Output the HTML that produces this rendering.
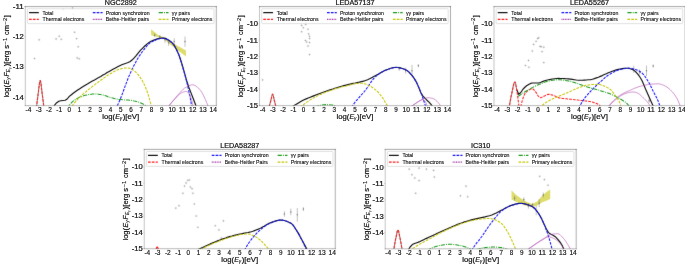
<!DOCTYPE html>
<html><head><meta charset="utf-8"><title>SED</title>
<style>html,body{margin:0;padding:0;background:#fff;overflow:hidden}body{width:685px;height:265px;font-family:"Liberation Sans", sans-serif}</style></head>
<body>
<svg width="685" height="265" viewBox="0 0 685 265" style="display:block;filter:blur(0.3px);font-family:'Liberation Sans', sans-serif" fill="#111"><style>text{stroke:#111}</style>
<defs><filter id="sf" x="0" y="0" width="685" height="265" filterUnits="userSpaceOnUse" color-interpolation-filters="sRGB"><feConvolveMatrix order="3" kernelMatrix="1 4 1 4 60 4 1 4 1" divisor="80" edgeMode="duplicate" preserveAlpha="true"/></filter></defs>
<g filter="url(#sf)">
<rect x="-5" y="-5" width="695" height="275" fill="#fff"/>
<clipPath id="c0"><rect x="25.3" y="6.6" width="191.0" height="99.0"/></clipPath>
<g clip-path="url(#c0)">
<polygon points="151.1,29.2 157.8,34.7 162.9,37.1 172.1,42.8 186.0,50.4 186.0,56.4 172.1,45.9 162.9,38.6 156.7,36.8 151.1,35.3" fill="#d2d23c" fill-opacity="0.75"/>
<path d="M33.3,58.5h2.5M34.5,57.3v2.5" stroke="#8c8c8c" stroke-width="0.55" stroke-opacity="0.52" fill="none"/>
<circle cx="34.5" cy="58.5" r="0.55" fill="#8c8c8c" fill-opacity="0.52"/>
<path d="M37.9,39.8h2.5M39.2,38.6v2.5" stroke="#8c8c8c" stroke-width="0.55" stroke-opacity="0.52" fill="none"/>
<circle cx="39.2" cy="39.8" r="0.55" fill="#8c8c8c" fill-opacity="0.52"/>
<path d="M54.9,38.9h2.5M56.1,37.7v2.5" stroke="#8c8c8c" stroke-width="0.55" stroke-opacity="0.52" fill="none"/>
<circle cx="56.1" cy="38.9" r="0.55" fill="#8c8c8c" fill-opacity="0.52"/>
<path d="M57.9,36.2h2.5M59.2,34.9v2.5" stroke="#8c8c8c" stroke-width="0.55" stroke-opacity="0.52" fill="none"/>
<circle cx="59.2" cy="36.2" r="0.55" fill="#8c8c8c" fill-opacity="0.52"/>
<path d="M60.0,39.2h2.5M61.2,38.0v2.5" stroke="#8c8c8c" stroke-width="0.55" stroke-opacity="0.52" fill="none"/>
<circle cx="61.2" cy="39.2" r="0.55" fill="#8c8c8c" fill-opacity="0.52"/>
<path d="M73.3,32.3h2.5M74.6,31.0v2.5" stroke="#8c8c8c" stroke-width="0.55" stroke-opacity="0.52" fill="none"/>
<circle cx="74.6" cy="32.3" r="0.55" fill="#8c8c8c" fill-opacity="0.52"/>
<path d="M75.4,38.6h2.5M76.6,37.4v2.5" stroke="#8c8c8c" stroke-width="0.55" stroke-opacity="0.52" fill="none"/>
<circle cx="76.6" cy="38.6" r="0.55" fill="#8c8c8c" fill-opacity="0.52"/>
<path d="M76.9,46.8h2.5M78.2,45.5v2.5" stroke="#8c8c8c" stroke-width="0.55" stroke-opacity="0.52" fill="none"/>
<circle cx="78.2" cy="46.8" r="0.55" fill="#8c8c8c" fill-opacity="0.52"/>
<path d="M75.9,57.9h2.5M77.2,56.7v2.5" stroke="#8c8c8c" stroke-width="0.55" stroke-opacity="0.52" fill="none"/>
<circle cx="77.2" cy="57.9" r="0.55" fill="#8c8c8c" fill-opacity="0.52"/>
<path d="M78.0,58.8h2.5M79.2,57.6v2.5" stroke="#8c8c8c" stroke-width="0.55" stroke-opacity="0.52" fill="none"/>
<circle cx="79.2" cy="58.8" r="0.55" fill="#8c8c8c" fill-opacity="0.52"/>
<path d="M71.3,8.1h2.5M72.5,6.9v2.5" stroke="#8c8c8c" stroke-width="0.55" stroke-opacity="0.52" fill="none"/>
<circle cx="72.5" cy="8.1" r="0.55" fill="#8c8c8c" fill-opacity="0.52"/>
<path d="M62.0,9.6h2.5M63.3,8.4v2.5" stroke="#8c8c8c" stroke-width="0.55" stroke-opacity="0.52" fill="none"/>
<circle cx="63.3" cy="9.6" r="0.55" fill="#8c8c8c" fill-opacity="0.52"/>
<path d="M72.3,14.1h2.5M73.6,12.9v2.5" stroke="#8c8c8c" stroke-width="0.55" stroke-opacity="0.52" fill="none"/>
<circle cx="73.6" cy="14.1" r="0.55" fill="#8c8c8c" fill-opacity="0.52"/>
<line x1="154.7" x2="154.7" y1="33.5" y2="37.1" stroke="#707070" stroke-width="0.7" stroke-opacity="0.62"/>
<circle cx="154.7" cy="35.3" r="0.75" fill="#707070" fill-opacity="0.8"/>
<line x1="159.8" x2="159.8" y1="35.0" y2="38.6" stroke="#707070" stroke-width="0.7" stroke-opacity="0.62"/>
<circle cx="159.8" cy="36.8" r="0.75" fill="#707070" fill-opacity="0.8"/>
<line x1="165.0" x2="165.0" y1="36.8" y2="42.8" stroke="#707070" stroke-width="0.7" stroke-opacity="0.62"/>
<circle cx="165.0" cy="39.8" r="0.75" fill="#707070" fill-opacity="0.8"/>
<line x1="168.6" x2="168.6" y1="39.8" y2="45.9" stroke="#707070" stroke-width="0.7" stroke-opacity="0.62"/>
<circle cx="168.6" cy="42.8" r="0.75" fill="#707070" fill-opacity="0.8"/>
<line x1="174.2" x2="174.2" y1="38.3" y2="45.0" stroke="#707070" stroke-width="0.7" stroke-opacity="0.62"/>
<circle cx="174.2" cy="41.6" r="0.75" fill="#707070" fill-opacity="0.8"/>
<line x1="185.0" x2="185.0" y1="36.5" y2="46.8" stroke="#707070" stroke-width="0.7" stroke-opacity="0.62"/>
<circle cx="185.0" cy="41.6" r="0.75" fill="#707070" fill-opacity="0.8"/>
<path d="M35.6,115.3 35.7,114.1 35.8,112.9 36.0,111.7 36.1,110.5 36.2,109.4 36.4,108.2 36.5,107.1 36.6,105.9 36.8,104.8 36.9,103.7 37.0,102.6 37.2,101.5 37.3,100.5 37.4,99.4 37.6,98.4 37.7,97.3 37.8,96.3 38.0,95.3 38.1,94.3 38.2,93.3 38.4,92.3 38.5,91.1 38.6,89.9 38.8,88.8 38.9,87.6 39.1,86.4 39.2,85.3 39.3,84.3 39.5,83.3 39.6,82.5 39.7,81.8 39.9,81.2 40.0,80.8 40.1,80.6 40.3,80.6 40.4,80.8 40.5,81.2 40.7,81.8 40.8,82.5 40.9,83.3 41.1,84.3 41.2,85.3 41.3,86.4 41.5,87.6 41.6,88.8 41.7,89.9 41.9,91.1 42.0,92.3 42.1,93.3 42.3,94.3 42.4,95.3 42.5,96.3 42.7,97.3 42.8,98.4 42.9,99.4 43.1,100.5 43.2,101.5 43.3,102.6 43.5,103.7 43.6,104.8 43.7,105.9 43.9,107.1 44.0,108.2 44.1,109.4 44.3,110.5 44.4,111.7 44.5,112.9 44.7,114.1 44.8,115.3" fill="none" stroke="#111" stroke-width="0.55" stroke-linejoin="round"/>
<path d="M52.5,109.3 54.6,105.2 56.7,102.7 58.8,101.2 60.9,100.7 63.0,100.5 65.1,100.3 67.2,99.0 69.3,96.4 71.4,94.7 73.5,93.0 75.6,91.5 77.7,90.1 79.8,88.7 81.9,87.3 84.0,86.0 86.1,84.7 88.2,83.5 90.3,82.2 92.4,81.0 94.5,79.9 96.6,78.7 98.7,77.6 100.8,76.4 102.9,75.1 105.0,73.9 107.1,72.6 109.2,71.4 111.3,70.2 113.4,69.0 115.5,67.9 117.6,66.8 119.7,65.7 121.8,64.8 123.9,64.0 126.0,63.3 128.1,62.5 130.2,61.5 132.3,59.8 134.4,57.6 136.4,55.3 138.5,52.7 140.6,50.2 142.7,48.1 144.8,46.0 146.9,44.1 149.0,42.5 151.1,41.2 153.2,40.4 155.3,39.6 157.4,38.9 159.5,38.4 161.6,38.1 163.7,38.1 165.8,38.6 167.9,39.7 170.0,41.1 172.1,42.8 174.2,45.4 176.3,49.2 178.4,53.7 180.5,59.4 182.6,66.1 184.7,73.7 186.8,81.3 188.9,87.5 191.0,92.9 193.1,98.3 195.2,103.8 197.3,109.3" fill="none" stroke="#111" stroke-width="1.15" stroke-linejoin="round"/>
<path d="M35.6,115.3 35.7,114.1 35.8,112.9 36.0,111.7 36.1,110.5 36.2,109.4 36.4,108.2 36.5,107.1 36.6,105.9 36.8,104.8 36.9,103.7 37.0,102.6 37.2,101.5 37.3,100.5 37.4,99.4 37.6,98.4 37.7,97.3 37.8,96.3 38.0,95.3 38.1,94.3 38.2,93.3 38.4,92.3 38.5,91.1 38.6,89.9 38.8,88.8 38.9,87.6 39.1,86.4 39.2,85.3 39.3,84.3 39.5,83.3 39.6,82.5 39.7,81.8 39.9,81.2 40.0,80.8 40.1,80.6 40.3,80.6 40.4,80.8 40.5,81.2 40.7,81.8 40.8,82.5 40.9,83.3 41.1,84.3 41.2,85.3 41.3,86.4 41.5,87.6 41.6,88.8 41.7,89.9 41.9,91.1 42.0,92.3 42.1,93.3 42.3,94.3 42.4,95.3 42.5,96.3 42.7,97.3 42.8,98.4 42.9,99.4 43.1,100.5 43.2,101.5 43.3,102.6 43.5,103.7 43.6,104.8 43.7,105.9 43.9,107.1 44.0,108.2 44.1,109.4 44.3,110.5 44.4,111.7 44.5,112.9 44.7,114.1 44.8,115.3" fill="none" stroke="#ff1a1a" stroke-width="1.05" stroke-dasharray="2.7,1.15" stroke-linejoin="round"/>
<path d="M115.7,109.3 116.8,106.9 117.9,104.5 119.0,102.0 120.1,99.5 121.2,96.8 122.3,94.0 123.4,91.0 124.5,87.9 125.6,84.8 126.8,81.8 127.9,78.8 129.0,76.1 130.1,73.6 131.2,71.2 132.3,68.9 133.4,66.6 134.5,64.5 135.6,62.4 136.7,60.4 137.8,58.4 138.9,56.6 140.1,54.9 141.2,53.3 142.3,51.8 143.4,50.3 144.5,48.9 145.6,47.5 146.7,46.1 147.8,44.9 148.9,43.8 150.0,42.9 151.1,42.2 152.3,41.6 153.4,41.1 154.5,40.6 155.6,40.1 156.7,39.6 157.8,39.2 158.9,38.9 160.0,38.6 161.1,38.4 162.2,38.3 163.3,38.3 164.4,38.5 165.6,38.8 166.7,39.2 167.8,39.8 168.9,40.5 170.0,41.2 171.1,42.0 172.2,42.9 173.3,44.0 174.4,45.6 175.5,47.6 176.6,49.8 177.8,52.2 178.9,54.8 180.0,58.1 181.1,61.8 182.2,65.6 183.3,69.4 184.4,73.2 185.5,77.1 186.6,81.3 187.7,85.9 188.8,91.1 190.0,96.7 191.1,102.8 192.2,109.3" fill="none" stroke="#1010ff" stroke-width="1.05" stroke-dasharray="2.7,1.15" stroke-linejoin="round"/>
<path d="M166.5,109.3 167.1,108.4 167.7,107.6 168.3,106.7 169.0,105.9 169.6,105.1 170.2,104.2 170.8,103.4 171.4,102.6 172.1,101.9 172.7,101.1 173.3,100.3 173.9,99.6 174.5,98.8 175.1,98.1 175.8,97.4 176.4,96.7 177.0,96.0 177.6,95.3 178.2,94.6 178.8,93.9 179.5,93.2 180.1,92.5 180.7,91.8 181.3,91.1 181.9,90.5 182.6,89.8 183.2,89.2 183.8,88.7 184.4,88.2 185.0,87.8 185.6,87.5 186.3,87.1 186.9,86.8 187.5,86.5 188.1,86.1 188.7,85.8 189.3,85.6 190.0,85.3 190.6,85.1 191.2,85.0 191.8,84.9 192.4,84.8 193.1,84.8 193.7,85.0 194.3,85.2 194.9,85.4 195.5,85.8 196.1,86.2 196.8,86.7 197.4,87.2 198.0,87.8 198.6,88.4 199.2,89.0 199.8,89.6 200.5,90.3 201.1,91.2 201.7,92.2 202.3,93.2 202.9,94.4 203.6,95.7 204.2,97.0 204.8,98.3 205.4,99.6 206.0,101.0 206.6,102.5 207.3,104.1 207.9,105.8 208.5,107.5 209.1,109.3" fill="none" stroke="#b04cb0" stroke-width="0.6" stroke-linejoin="round"/>
<path d="M166.5,109.3 166.9,108.7 167.3,108.2 167.7,107.7 168.1,107.1 168.5,106.6 168.9,106.1 169.3,105.6 169.7,105.1 170.0,104.6 170.4,104.1 170.8,103.6 171.2,103.1 171.6,102.7 172.0,102.2 172.4,101.8 172.8,101.3 173.2,100.9 173.6,100.4 174.0,100.0 174.4,99.6 174.8,99.2 175.2,98.8 175.6,98.4 176.0,97.9 176.4,97.5 176.8,97.1 177.1,96.7 177.5,96.2 177.9,95.8 178.3,95.4 178.7,95.0 179.1,94.6 179.5,94.3 179.9,93.9 180.3,93.6 180.7,93.3 181.1,93.0 181.5,92.8 181.9,92.6 182.3,92.4 182.7,92.3 183.1,92.2 183.5,92.0 183.8,91.9 184.2,91.8 184.6,91.7 185.0,91.6 185.4,91.5 185.8,91.5 186.2,91.5 186.6,91.5 187.0,91.6 187.4,91.8 187.8,92.2 188.2,92.7 188.6,93.3 189.0,93.9 189.4,94.6 189.8,95.4 190.2,96.2 190.6,97.0 190.9,98.0 191.3,99.1 191.7,100.4 192.1,102.0 192.5,103.6 192.9,105.4 193.3,107.3 193.7,109.3" fill="none" stroke="#b04cb0" stroke-width="0.6" stroke-linejoin="round"/>
<path d="M66.4,109.3 67.6,107.5 68.8,105.9 69.9,104.4 71.1,103.1 72.3,101.9 73.5,100.9 74.7,100.0 75.9,99.2 77.1,98.5 78.3,97.9 79.5,97.3 80.7,96.8 81.9,96.4 83.0,96.0 84.2,95.6 85.4,95.3 86.6,95.0 87.8,94.8 89.0,94.6 90.2,94.4 91.4,94.2 92.6,94.0 93.8,93.9 94.9,93.9 96.1,93.9 97.3,94.0 98.5,94.2 99.7,94.4 100.9,94.6 102.1,94.8 103.3,95.1 104.5,95.4 105.7,95.8 106.9,96.2 108.0,96.7 109.2,97.1 110.4,97.5 111.6,97.8 112.8,98.1 114.0,98.4 115.2,98.7 116.4,98.9 117.6,99.2 118.8,99.4 120.0,99.5 121.1,99.6 122.3,99.7 123.5,99.8 124.7,99.9 125.9,99.9 127.1,100.0 128.3,100.1 129.5,100.2 130.7,100.3 131.9,100.5 133.0,100.7 134.2,101.0 135.4,101.2 136.6,101.6 137.8,101.9 139.0,102.3 140.2,102.7 141.4,103.2 142.6,103.7 143.8,104.4 145.0,105.1 146.1,106.3 147.3,107.7 148.5,109.3" fill="none" stroke="#1a9a1a" stroke-width="1.05" stroke-dasharray="4.2,1.1,0.9,1.1" stroke-linejoin="round"/>
<path d="M69.5,109.3 70.7,107.7 71.9,106.2 73.0,104.7 74.2,103.2 75.4,101.8 76.6,100.4 77.8,99.1 79.0,97.9 80.2,96.7 81.4,95.6 82.6,94.5 83.8,93.4 85.0,92.4 86.2,91.5 87.4,90.5 88.6,89.5 89.8,88.6 91.0,87.6 92.2,86.7 93.4,85.7 94.6,84.8 95.8,83.9 97.0,83.0 98.2,82.1 99.4,81.2 100.6,80.3 101.8,79.5 103.0,78.6 104.2,77.8 105.4,76.9 106.6,76.1 107.8,75.3 109.0,74.5 110.2,73.8 111.4,73.2 112.6,72.5 113.8,71.8 115.0,71.1 116.2,70.5 117.4,70.0 118.6,69.5 119.8,69.1 121.0,68.8 122.2,68.5 123.4,68.3 124.6,68.1 125.8,68.0 127.0,67.9 128.2,68.0 129.4,68.2 130.6,68.7 131.8,69.3 133.0,69.9 134.1,70.7 135.3,71.6 136.5,72.8 137.7,74.2 138.9,75.7 140.1,77.4 141.3,79.1 142.5,81.0 143.7,83.3 144.9,85.9 146.1,88.8 147.3,92.0 148.5,95.7 149.7,99.8 150.9,104.4 152.1,109.3" fill="none" stroke="#c4c400" stroke-width="1.05" stroke-dasharray="2.7,1.15" stroke-linejoin="round"/>
</g>
<line x1="25.3" y1="6.6" x2="25.3" y2="105.6" stroke="#000" stroke-opacity="0.28" stroke-width="0.85" stroke-linecap="square"/>
<line x1="25.3" y1="105.6" x2="216.3" y2="105.6" stroke="#000" stroke-opacity="0.32" stroke-width="0.85" stroke-linecap="square"/>
<line x1="25.3" y1="6.6" x2="216.3" y2="6.6" stroke="#000" stroke-opacity="0.42" stroke-width="0.85" stroke-linecap="square"/>
<line x1="216.3" y1="6.6" x2="216.3" y2="105.6" stroke="#000" stroke-opacity="0.38" stroke-width="0.85" stroke-linecap="square"/>
<line x1="28.38" x2="28.38" y1="105.6" y2="106.8" stroke="#000" stroke-opacity="0.25" stroke-width="0.5"/>
<line x1="38.65" x2="38.65" y1="105.6" y2="106.8" stroke="#000" stroke-opacity="0.25" stroke-width="0.5"/>
<line x1="48.92" x2="48.92" y1="105.6" y2="106.8" stroke="#000" stroke-opacity="0.25" stroke-width="0.5"/>
<line x1="59.19" x2="59.19" y1="105.6" y2="106.8" stroke="#000" stroke-opacity="0.25" stroke-width="0.5"/>
<line x1="69.46" x2="69.46" y1="105.6" y2="106.8" stroke="#000" stroke-opacity="0.25" stroke-width="0.5"/>
<line x1="79.72" x2="79.72" y1="105.6" y2="106.8" stroke="#000" stroke-opacity="0.25" stroke-width="0.5"/>
<line x1="89.99" x2="89.99" y1="105.6" y2="106.8" stroke="#000" stroke-opacity="0.25" stroke-width="0.5"/>
<line x1="100.26" x2="100.26" y1="105.6" y2="106.8" stroke="#000" stroke-opacity="0.25" stroke-width="0.5"/>
<line x1="110.53" x2="110.53" y1="105.6" y2="106.8" stroke="#000" stroke-opacity="0.25" stroke-width="0.5"/>
<line x1="120.80" x2="120.80" y1="105.6" y2="106.8" stroke="#000" stroke-opacity="0.25" stroke-width="0.5"/>
<line x1="131.07" x2="131.07" y1="105.6" y2="106.8" stroke="#000" stroke-opacity="0.25" stroke-width="0.5"/>
<line x1="141.34" x2="141.34" y1="105.6" y2="106.8" stroke="#000" stroke-opacity="0.25" stroke-width="0.5"/>
<line x1="151.61" x2="151.61" y1="105.6" y2="106.8" stroke="#000" stroke-opacity="0.25" stroke-width="0.5"/>
<line x1="161.88" x2="161.88" y1="105.6" y2="106.8" stroke="#000" stroke-opacity="0.25" stroke-width="0.5"/>
<line x1="172.14" x2="172.14" y1="105.6" y2="106.8" stroke="#000" stroke-opacity="0.25" stroke-width="0.5"/>
<line x1="182.41" x2="182.41" y1="105.6" y2="106.8" stroke="#000" stroke-opacity="0.25" stroke-width="0.5"/>
<line x1="192.68" x2="192.68" y1="105.6" y2="106.8" stroke="#000" stroke-opacity="0.25" stroke-width="0.5"/>
<line x1="202.95" x2="202.95" y1="105.6" y2="106.8" stroke="#000" stroke-opacity="0.25" stroke-width="0.5"/>
<line x1="213.22" x2="213.22" y1="105.6" y2="106.8" stroke="#000" stroke-opacity="0.25" stroke-width="0.5"/>
<line x1="24.1" x2="25.3" y1="6.60" y2="6.60" stroke="#000" stroke-opacity="0.25" stroke-width="0.5"/>
<line x1="24.1" x2="25.3" y1="36.80" y2="36.80" stroke="#000" stroke-opacity="0.25" stroke-width="0.5"/>
<line x1="24.1" x2="25.3" y1="67.00" y2="67.00" stroke="#000" stroke-opacity="0.25" stroke-width="0.5"/>
<line x1="24.1" x2="25.3" y1="97.20" y2="97.20" stroke="#000" stroke-opacity="0.25" stroke-width="0.5"/>
<rect x="27.45" y="8.70" width="186.55" height="14.90" rx="0.8" fill="#fff" fill-opacity="0.8" stroke="#c8c8c8" stroke-width="0.55"/>
<line x1="29.05" x2="38.85" y1="12.60" y2="12.60" stroke="#111" stroke-width="1.25"/>
<line x1="29.05" x2="38.85" y1="19.30" y2="19.30" stroke="#ff1a1a" stroke-width="1.15" stroke-dasharray="2.7,1.15"/>
<line x1="92.80" x2="102.60" y1="12.60" y2="12.60" stroke="#1010ff" stroke-width="1.15" stroke-dasharray="2.7,1.15"/>
<line x1="92.80" x2="102.60" y1="19.30" y2="19.30" stroke="#a030a0" stroke-width="1.15" stroke-dasharray="1.0,0.65"/>
<line x1="158.70" x2="168.50" y1="12.60" y2="12.60" stroke="#1a9a1a" stroke-width="1.15" stroke-dasharray="4.2,1.1,0.9,1.1"/>
<line x1="158.70" x2="168.50" y1="19.30" y2="19.30" stroke="#c4c400" stroke-width="1.15" stroke-dasharray="2.7,1.15"/>
<clipPath id="c1"><rect x="259.5" y="6.6" width="191.0" height="99.0"/></clipPath>
<g clip-path="url(#c1)">
<path d="M300.4,25.4h2.5M301.6,24.2v2.5" stroke="#8c8c8c" stroke-width="0.55" stroke-opacity="0.52" fill="none"/>
<circle cx="301.6" cy="25.4" r="0.55" fill="#8c8c8c" fill-opacity="0.52"/>
<path d="M302.1,27.7h2.5M303.3,26.5v2.5" stroke="#8c8c8c" stroke-width="0.55" stroke-opacity="0.52" fill="none"/>
<circle cx="303.3" cy="27.7" r="0.55" fill="#8c8c8c" fill-opacity="0.52"/>
<path d="M300.4,31.7h2.5M301.6,30.4v2.5" stroke="#8c8c8c" stroke-width="0.55" stroke-opacity="0.52" fill="none"/>
<circle cx="301.6" cy="31.7" r="0.55" fill="#8c8c8c" fill-opacity="0.52"/>
<path d="M304.5,24.5h2.5M305.7,23.2v2.5" stroke="#8c8c8c" stroke-width="0.55" stroke-opacity="0.52" fill="none"/>
<circle cx="305.7" cy="24.5" r="0.55" fill="#8c8c8c" fill-opacity="0.52"/>
<path d="M306.7,29.2h2.5M308.0,27.9v2.5" stroke="#8c8c8c" stroke-width="0.55" stroke-opacity="0.52" fill="none"/>
<circle cx="308.0" cy="29.2" r="0.55" fill="#8c8c8c" fill-opacity="0.52"/>
<path d="M307.3,33.9h2.5M308.6,32.7v2.5" stroke="#8c8c8c" stroke-width="0.55" stroke-opacity="0.52" fill="none"/>
<circle cx="308.6" cy="33.9" r="0.55" fill="#8c8c8c" fill-opacity="0.52"/>
<path d="M308.3,36.2h2.5M309.5,35.0v2.5" stroke="#8c8c8c" stroke-width="0.55" stroke-opacity="0.52" fill="none"/>
<circle cx="309.5" cy="36.2" r="0.55" fill="#8c8c8c" fill-opacity="0.52"/>
<path d="M308.3,38.5h2.5M309.5,37.3v2.5" stroke="#8c8c8c" stroke-width="0.55" stroke-opacity="0.52" fill="none"/>
<circle cx="309.5" cy="38.5" r="0.55" fill="#8c8c8c" fill-opacity="0.52"/>
<path d="M304.2,40.5h2.5M305.4,39.2v2.5" stroke="#8c8c8c" stroke-width="0.55" stroke-opacity="0.52" fill="none"/>
<circle cx="305.4" cy="40.5" r="0.55" fill="#8c8c8c" fill-opacity="0.52"/>
<path d="M305.5,42.0h2.5M306.7,40.7v2.5" stroke="#8c8c8c" stroke-width="0.55" stroke-opacity="0.52" fill="none"/>
<circle cx="306.7" cy="42.0" r="0.55" fill="#8c8c8c" fill-opacity="0.52"/>
<path d="M308.3,42.5h2.5M309.5,41.2v2.5" stroke="#8c8c8c" stroke-width="0.55" stroke-opacity="0.52" fill="none"/>
<circle cx="309.5" cy="42.5" r="0.55" fill="#8c8c8c" fill-opacity="0.52"/>
<path d="M306.7,46.0h2.5M308.0,44.8v2.5" stroke="#8c8c8c" stroke-width="0.55" stroke-opacity="0.52" fill="none"/>
<circle cx="308.0" cy="46.0" r="0.55" fill="#8c8c8c" fill-opacity="0.52"/>
<path d="M308.3,54.6h2.5M309.5,53.3v2.5" stroke="#8c8c8c" stroke-width="0.55" stroke-opacity="0.52" fill="none"/>
<circle cx="309.5" cy="54.6" r="0.55" fill="#8c8c8c" fill-opacity="0.52"/>
<path d="M261.3,79.9h2.5M262.6,78.7v2.5" stroke="#8c8c8c" stroke-width="0.55" stroke-opacity="0.52" fill="none"/>
<circle cx="262.6" cy="79.9" r="0.55" fill="#8c8c8c" fill-opacity="0.52"/>
<line x1="399.2" x2="399.2" y1="66.8" y2="70.8" stroke="#707070" stroke-width="0.7" stroke-opacity="0.62"/>
<circle cx="399.2" cy="68.8" r="0.75" fill="#707070" fill-opacity="0.8"/>
<line x1="405.6" x2="405.6" y1="67.8" y2="73.7" stroke="#707070" stroke-width="0.7" stroke-opacity="0.62"/>
<circle cx="405.6" cy="70.8" r="0.75" fill="#707070" fill-opacity="0.8"/>
<line x1="412.0" x2="412.0" y1="64.9" y2="76.6" stroke="#707070" stroke-width="0.7" stroke-opacity="0.62"/>
<circle cx="412.0" cy="70.8" r="0.75" fill="#707070" fill-opacity="0.8"/>
<line x1="418.4" x2="418.4" y1="64.0" y2="67.3" stroke="#707070" stroke-width="0.7" stroke-opacity="0.62"/>
<circle cx="418.4" cy="65.7" r="0.75" fill="#707070" fill-opacity="0.8"/>
<path d="M268.2,110.5 268.4,110.0 268.5,109.5 268.6,109.0 268.7,108.5 268.9,108.0 269.0,107.5 269.1,107.0 269.2,106.5 269.4,106.1 269.5,105.6 269.6,105.1 269.7,104.6 269.9,104.1 270.0,103.6 270.1,103.2 270.3,102.7 270.4,102.2 270.5,101.8 270.6,101.3 270.8,100.8 270.9,100.4 271.0,99.8 271.1,99.3 271.3,98.7 271.4,98.1 271.5,97.5 271.6,96.9 271.8,96.4 271.9,95.8 272.0,95.4 272.1,94.9 272.3,94.6 272.4,94.4 272.5,94.2 272.7,94.1 272.8,94.2 272.9,94.4 273.0,94.7 273.2,95.1 273.3,95.6 273.4,96.1 273.5,96.7 273.7,97.3 273.8,98.0 273.9,98.6 274.0,99.2 274.2,99.8 274.3,100.3 274.4,100.8 274.6,101.3 274.7,101.8 274.8,102.3 274.9,102.8 275.1,103.2 275.2,103.7 275.3,104.2 275.4,104.7 275.6,105.2 275.7,105.6 275.8,106.1 275.9,106.6 276.1,107.1 276.2,107.6 276.3,108.1 276.5,108.6 276.6,109.0 276.7,109.5 276.8,110.0 277.0,110.5" fill="none" stroke="#111" stroke-width="0.55" stroke-linejoin="round"/>
<path d="M291.8,107.2 293.9,105.8 295.9,104.4 298.0,103.2 300.0,102.0 302.1,100.8 304.1,99.8 306.2,98.9 308.2,98.0 310.3,97.2 312.3,96.4 314.4,95.6 316.4,94.8 318.4,94.0 320.5,93.2 322.5,92.5 324.6,91.7 326.6,91.0 328.7,90.3 330.7,89.6 332.8,89.0 334.8,88.3 336.9,87.7 338.9,87.1 341.0,86.5 343.0,85.9 345.1,85.4 347.1,84.9 349.1,84.4 351.2,83.9 353.2,83.4 355.3,83.0 357.3,82.5 359.4,82.1 361.4,81.6 363.5,81.1 365.5,80.5 367.6,79.7 369.6,78.8 371.7,77.7 373.7,76.6 375.7,75.6 377.8,74.4 379.8,73.2 381.9,72.0 383.9,70.9 386.0,70.0 388.0,69.3 390.1,68.5 392.1,67.9 394.2,67.5 396.2,67.3 398.3,67.5 400.3,67.9 402.3,68.5 404.4,69.3 406.4,70.1 408.5,71.6 410.5,73.8 412.6,76.2 414.6,79.1 416.7,82.6 418.7,87.4 420.8,92.5 422.8,95.8 424.9,98.1 426.9,100.2 429.0,102.1 431.0,104.4 433.0,107.2" fill="none" stroke="#111" stroke-width="1.15" stroke-linejoin="round"/>
<path d="M268.2,110.5 268.4,110.0 268.5,109.5 268.6,109.0 268.7,108.5 268.9,108.0 269.0,107.5 269.1,107.0 269.2,106.5 269.4,106.1 269.5,105.6 269.6,105.1 269.7,104.6 269.9,104.1 270.0,103.6 270.1,103.2 270.3,102.7 270.4,102.2 270.5,101.8 270.6,101.3 270.8,100.8 270.9,100.4 271.0,99.8 271.1,99.3 271.3,98.7 271.4,98.1 271.5,97.5 271.6,96.9 271.8,96.4 271.9,95.8 272.0,95.4 272.1,94.9 272.3,94.6 272.4,94.4 272.5,94.2 272.7,94.1 272.8,94.2 272.9,94.4 273.0,94.7 273.2,95.1 273.3,95.6 273.4,96.1 273.5,96.7 273.7,97.3 273.8,98.0 273.9,98.6 274.0,99.2 274.2,99.8 274.3,100.3 274.4,100.8 274.6,101.3 274.7,101.8 274.8,102.3 274.9,102.8 275.1,103.2 275.2,103.7 275.3,104.2 275.4,104.7 275.6,105.2 275.7,105.6 275.8,106.1 275.9,106.6 276.1,107.1 276.2,107.6 276.3,108.1 276.5,108.6 276.6,109.0 276.7,109.5 276.8,110.0 277.0,110.5" fill="none" stroke="#ff1a1a" stroke-width="1.05" stroke-dasharray="2.7,1.15" stroke-linejoin="round"/>
<path d="M351.4,107.2 352.5,105.7 353.6,104.2 354.6,102.8 355.7,101.4 356.8,100.1 357.9,98.9 359.0,97.6 360.0,96.4 361.1,95.2 362.2,94.0 363.3,92.8 364.4,91.5 365.4,90.2 366.5,88.7 367.6,87.2 368.7,85.6 369.7,84.0 370.8,82.4 371.9,80.8 373.0,79.4 374.1,78.1 375.1,77.0 376.2,76.1 377.3,75.2 378.4,74.4 379.5,73.6 380.5,72.9 381.6,72.3 382.7,71.7 383.8,71.1 384.9,70.6 385.9,70.2 387.0,69.8 388.1,69.4 389.2,69.0 390.2,68.6 391.3,68.3 392.4,68.0 393.5,67.7 394.6,67.6 395.6,67.5 396.7,67.5 397.8,67.6 398.9,67.7 400.0,67.9 401.0,68.2 402.1,68.5 403.2,68.9 404.3,69.3 405.4,69.7 406.4,70.1 407.5,70.8 408.6,71.7 409.7,72.8 410.7,74.0 411.8,75.3 412.9,76.7 414.0,78.2 415.1,79.9 416.1,81.8 417.2,83.9 418.3,86.3 419.4,88.8 420.5,91.6 421.5,94.4 422.6,97.4 423.7,100.5 424.8,103.8 425.9,107.2" fill="none" stroke="#1010ff" stroke-width="1.05" stroke-dasharray="2.7,1.15" stroke-linejoin="round"/>
<path d="M410.5,107.2 410.9,106.9 411.3,106.5 411.8,106.2 412.2,105.8 412.7,105.5 413.1,105.2 413.6,104.8 414.0,104.5 414.5,104.2 414.9,103.9 415.4,103.6 415.8,103.3 416.3,103.0 416.7,102.7 417.1,102.4 417.6,102.1 418.0,101.9 418.5,101.6 418.9,101.4 419.4,101.1 419.8,100.8 420.3,100.6 420.7,100.3 421.2,100.0 421.6,99.8 422.1,99.5 422.5,99.3 423.0,99.1 423.4,98.9 423.8,98.7 424.3,98.6 424.7,98.4 425.2,98.3 425.6,98.2 426.1,98.1 426.5,98.0 427.0,97.9 427.4,97.8 427.9,97.8 428.3,97.7 428.8,97.8 429.2,97.8 429.6,97.8 430.1,97.9 430.5,98.0 431.0,98.1 431.4,98.2 431.9,98.3 432.3,98.4 432.8,98.6 433.2,98.7 433.7,98.9 434.1,99.1 434.6,99.3 435.0,99.6 435.5,99.9 435.9,100.3 436.3,100.7 436.8,101.1 437.2,101.6 437.7,102.1 438.1,102.6 438.6,103.1 439.0,103.7 439.5,104.3 439.9,105.0 440.4,105.7 440.8,106.5 441.3,107.2" fill="none" stroke="#b04cb0" stroke-width="0.6" stroke-linejoin="round"/>
<path d="M410.5,107.2 410.7,107.0 410.9,106.8 411.2,106.6 411.4,106.5 411.7,106.3 411.9,106.1 412.2,105.9 412.4,105.7 412.7,105.5 412.9,105.3 413.2,105.1 413.4,105.0 413.6,104.8 413.9,104.6 414.1,104.4 414.4,104.3 414.6,104.1 414.9,103.9 415.1,103.8 415.4,103.6 415.6,103.5 415.9,103.3 416.1,103.1 416.3,103.0 416.6,102.8 416.8,102.7 417.1,102.5 417.3,102.4 417.6,102.2 417.8,102.0 418.1,101.8 418.3,101.7 418.6,101.5 418.8,101.3 419.0,101.1 419.3,101.0 419.5,100.8 419.8,100.7 420.0,100.5 420.3,100.4 420.5,100.2 420.8,100.1 421.0,100.0 421.3,99.9 421.5,99.8 421.7,99.7 422.0,99.6 422.2,99.6 422.5,99.6 422.7,99.5 423.0,99.6 423.2,99.6 423.5,99.7 423.7,99.9 424.0,100.1 424.2,100.3 424.4,100.5 424.7,100.8 424.9,101.0 425.2,101.3 425.4,101.6 425.7,102.0 425.9,102.6 426.2,103.2 426.4,103.9 426.7,104.6 426.9,105.5 427.1,106.3 427.4,107.2" fill="none" stroke="#b04cb0" stroke-width="0.6" stroke-linejoin="round"/>
<path d="M315.0,107.2 315.3,107.1 315.6,106.9 315.9,106.8 316.3,106.6 316.6,106.5 316.9,106.3 317.2,106.2 317.6,106.1 317.9,106.0 318.2,105.8 318.6,105.7 318.9,105.6 319.2,105.5 319.5,105.4 319.9,105.4 320.2,105.3 320.5,105.2 320.8,105.2 321.2,105.1 321.5,105.1 321.8,105.0 322.2,105.0 322.5,104.9 322.8,104.9 323.1,104.8 323.5,104.8 323.8,104.8 324.1,104.7 324.4,104.7 324.8,104.7 325.1,104.7 325.4,104.6 325.8,104.6 326.1,104.6 326.4,104.6 326.7,104.6 327.1,104.6 327.4,104.6 327.7,104.7 328.0,104.7 328.4,104.7 328.7,104.7 329.0,104.7 329.4,104.8 329.7,104.8 330.0,104.8 330.3,104.9 330.7,104.9 331.0,104.9 331.3,105.0 331.6,105.0 332.0,105.1 332.3,105.1 332.6,105.1 333.0,105.2 333.3,105.3 333.6,105.4 333.9,105.5 334.3,105.6 334.6,105.7 334.9,105.9 335.3,106.0 335.6,106.2 335.9,106.3 336.2,106.5 336.6,106.7 336.9,106.9 337.2,107.1 337.5,107.2" fill="none" stroke="#1a9a1a" stroke-width="1.05" stroke-dasharray="4.2,1.1,0.9,1.1" stroke-linejoin="round"/>
<path d="M300.1,107.2 301.3,106.2 302.6,105.2 303.9,104.3 305.2,103.3 306.5,102.4 307.7,101.6 309.0,100.7 310.3,99.9 311.6,99.1 312.9,98.4 314.1,97.6 315.4,96.9 316.7,96.3 318.0,95.6 319.3,95.0 320.5,94.4 321.8,93.9 323.1,93.3 324.4,92.8 325.7,92.2 326.9,91.7 328.2,91.2 329.5,90.8 330.8,90.3 332.1,89.9 333.3,89.4 334.6,89.0 335.9,88.6 337.2,88.2 338.5,87.9 339.7,87.5 341.0,87.2 342.3,86.8 343.6,86.5 344.9,86.2 346.1,85.9 347.4,85.5 348.7,85.2 350.0,84.9 351.3,84.6 352.5,84.3 353.8,84.0 355.1,83.8 356.4,83.6 357.7,83.4 358.9,83.3 360.2,83.2 361.5,83.2 362.8,83.4 364.1,83.7 365.3,84.0 366.6,84.4 367.9,84.9 369.2,85.5 370.5,86.2 371.7,87.0 373.0,87.9 374.3,88.8 375.6,89.8 376.9,90.9 378.1,92.2 379.4,93.7 380.7,95.3 382.0,97.0 383.3,98.9 384.5,101.0 385.8,103.2 387.1,105.2 388.4,107.2" fill="none" stroke="#c4c400" stroke-width="1.05" stroke-dasharray="2.7,1.15" stroke-linejoin="round"/>
</g>
<line x1="259.5" y1="6.6" x2="259.5" y2="105.6" stroke="#000" stroke-opacity="0.28" stroke-width="0.85" stroke-linecap="square"/>
<line x1="259.5" y1="105.6" x2="450.5" y2="105.6" stroke="#000" stroke-opacity="0.32" stroke-width="0.85" stroke-linecap="square"/>
<line x1="259.5" y1="6.6" x2="450.5" y2="6.6" stroke="#000" stroke-opacity="0.42" stroke-width="0.85" stroke-linecap="square"/>
<line x1="450.5" y1="6.6" x2="450.5" y2="105.6" stroke="#000" stroke-opacity="0.38" stroke-width="0.85" stroke-linecap="square"/>
<line x1="262.58" x2="262.58" y1="105.6" y2="106.8" stroke="#000" stroke-opacity="0.25" stroke-width="0.5"/>
<line x1="272.85" x2="272.85" y1="105.6" y2="106.8" stroke="#000" stroke-opacity="0.25" stroke-width="0.5"/>
<line x1="283.12" x2="283.12" y1="105.6" y2="106.8" stroke="#000" stroke-opacity="0.25" stroke-width="0.5"/>
<line x1="293.39" x2="293.39" y1="105.6" y2="106.8" stroke="#000" stroke-opacity="0.25" stroke-width="0.5"/>
<line x1="303.66" x2="303.66" y1="105.6" y2="106.8" stroke="#000" stroke-opacity="0.25" stroke-width="0.5"/>
<line x1="313.92" x2="313.92" y1="105.6" y2="106.8" stroke="#000" stroke-opacity="0.25" stroke-width="0.5"/>
<line x1="324.19" x2="324.19" y1="105.6" y2="106.8" stroke="#000" stroke-opacity="0.25" stroke-width="0.5"/>
<line x1="334.46" x2="334.46" y1="105.6" y2="106.8" stroke="#000" stroke-opacity="0.25" stroke-width="0.5"/>
<line x1="344.73" x2="344.73" y1="105.6" y2="106.8" stroke="#000" stroke-opacity="0.25" stroke-width="0.5"/>
<line x1="355.00" x2="355.00" y1="105.6" y2="106.8" stroke="#000" stroke-opacity="0.25" stroke-width="0.5"/>
<line x1="365.27" x2="365.27" y1="105.6" y2="106.8" stroke="#000" stroke-opacity="0.25" stroke-width="0.5"/>
<line x1="375.54" x2="375.54" y1="105.6" y2="106.8" stroke="#000" stroke-opacity="0.25" stroke-width="0.5"/>
<line x1="385.81" x2="385.81" y1="105.6" y2="106.8" stroke="#000" stroke-opacity="0.25" stroke-width="0.5"/>
<line x1="396.08" x2="396.08" y1="105.6" y2="106.8" stroke="#000" stroke-opacity="0.25" stroke-width="0.5"/>
<line x1="406.34" x2="406.34" y1="105.6" y2="106.8" stroke="#000" stroke-opacity="0.25" stroke-width="0.5"/>
<line x1="416.61" x2="416.61" y1="105.6" y2="106.8" stroke="#000" stroke-opacity="0.25" stroke-width="0.5"/>
<line x1="426.88" x2="426.88" y1="105.6" y2="106.8" stroke="#000" stroke-opacity="0.25" stroke-width="0.5"/>
<line x1="437.15" x2="437.15" y1="105.6" y2="106.8" stroke="#000" stroke-opacity="0.25" stroke-width="0.5"/>
<line x1="447.42" x2="447.42" y1="105.6" y2="106.8" stroke="#000" stroke-opacity="0.25" stroke-width="0.5"/>
<line x1="258.3" x2="259.5" y1="23.80" y2="23.80" stroke="#000" stroke-opacity="0.25" stroke-width="0.5"/>
<line x1="258.3" x2="259.5" y1="40.16" y2="40.16" stroke="#000" stroke-opacity="0.25" stroke-width="0.5"/>
<line x1="258.3" x2="259.5" y1="56.52" y2="56.52" stroke="#000" stroke-opacity="0.25" stroke-width="0.5"/>
<line x1="258.3" x2="259.5" y1="72.88" y2="72.88" stroke="#000" stroke-opacity="0.25" stroke-width="0.5"/>
<line x1="258.3" x2="259.5" y1="89.24" y2="89.24" stroke="#000" stroke-opacity="0.25" stroke-width="0.5"/>
<line x1="258.3" x2="259.5" y1="105.60" y2="105.60" stroke="#000" stroke-opacity="0.25" stroke-width="0.5"/>
<rect x="261.65" y="8.70" width="186.55" height="14.90" rx="0.8" fill="#fff" fill-opacity="0.8" stroke="#c8c8c8" stroke-width="0.55"/>
<line x1="263.25" x2="273.05" y1="12.60" y2="12.60" stroke="#111" stroke-width="1.25"/>
<line x1="263.25" x2="273.05" y1="19.30" y2="19.30" stroke="#ff1a1a" stroke-width="1.15" stroke-dasharray="2.7,1.15"/>
<line x1="327.00" x2="336.80" y1="12.60" y2="12.60" stroke="#1010ff" stroke-width="1.15" stroke-dasharray="2.7,1.15"/>
<line x1="327.00" x2="336.80" y1="19.30" y2="19.30" stroke="#a030a0" stroke-width="1.15" stroke-dasharray="1.0,0.65"/>
<line x1="392.90" x2="402.70" y1="12.60" y2="12.60" stroke="#1a9a1a" stroke-width="1.15" stroke-dasharray="4.2,1.1,0.9,1.1"/>
<line x1="392.90" x2="402.70" y1="19.30" y2="19.30" stroke="#c4c400" stroke-width="1.15" stroke-dasharray="2.7,1.15"/>
<clipPath id="c2"><rect x="494.0" y="6.6" width="191.0" height="99.0"/></clipPath>
<g clip-path="url(#c2)">
<path d="M524.2,65.5h2.5M525.4,64.3v2.5" stroke="#8c8c8c" stroke-width="0.55" stroke-opacity="0.52" fill="none"/>
<circle cx="525.4" cy="65.5" r="0.55" fill="#8c8c8c" fill-opacity="0.52"/>
<path d="M527.3,60.4h2.5M528.5,59.2v2.5" stroke="#8c8c8c" stroke-width="0.55" stroke-opacity="0.52" fill="none"/>
<circle cx="528.5" cy="60.4" r="0.55" fill="#8c8c8c" fill-opacity="0.52"/>
<path d="M531.1,51.0h2.5M532.3,49.7v2.5" stroke="#8c8c8c" stroke-width="0.55" stroke-opacity="0.52" fill="none"/>
<circle cx="532.3" cy="51.0" r="0.55" fill="#8c8c8c" fill-opacity="0.52"/>
<path d="M532.4,44.4h2.5M533.6,43.2v2.5" stroke="#8c8c8c" stroke-width="0.55" stroke-opacity="0.52" fill="none"/>
<circle cx="533.6" cy="44.4" r="0.55" fill="#8c8c8c" fill-opacity="0.52"/>
<path d="M534.9,41.3h2.5M536.1,40.1v2.5" stroke="#8c8c8c" stroke-width="0.55" stroke-opacity="0.52" fill="none"/>
<circle cx="536.1" cy="41.3" r="0.55" fill="#8c8c8c" fill-opacity="0.52"/>
<path d="M536.4,38.5h2.5M537.6,37.3v2.5" stroke="#8c8c8c" stroke-width="0.55" stroke-opacity="0.52" fill="none"/>
<circle cx="537.6" cy="38.5" r="0.55" fill="#8c8c8c" fill-opacity="0.52"/>
<path d="M537.4,37.7h2.5M538.7,36.5v2.5" stroke="#8c8c8c" stroke-width="0.55" stroke-opacity="0.52" fill="none"/>
<circle cx="538.7" cy="37.7" r="0.55" fill="#8c8c8c" fill-opacity="0.52"/>
<path d="M538.8,46.4h2.5M540.0,45.1v2.5" stroke="#8c8c8c" stroke-width="0.55" stroke-opacity="0.52" fill="none"/>
<circle cx="540.0" cy="46.4" r="0.55" fill="#8c8c8c" fill-opacity="0.52"/>
<path d="M540.0,46.7h2.5M541.2,45.5v2.5" stroke="#8c8c8c" stroke-width="0.55" stroke-opacity="0.52" fill="none"/>
<circle cx="541.2" cy="46.7" r="0.55" fill="#8c8c8c" fill-opacity="0.52"/>
<path d="M542.6,47.2h2.5M543.8,45.9v2.5" stroke="#8c8c8c" stroke-width="0.55" stroke-opacity="0.52" fill="none"/>
<circle cx="543.8" cy="47.2" r="0.55" fill="#8c8c8c" fill-opacity="0.52"/>
<path d="M540.8,51.6h2.5M542.1,50.4v2.5" stroke="#8c8c8c" stroke-width="0.55" stroke-opacity="0.52" fill="none"/>
<circle cx="542.1" cy="51.6" r="0.55" fill="#8c8c8c" fill-opacity="0.52"/>
<path d="M542.6,62.6h2.5M543.8,61.3v2.5" stroke="#8c8c8c" stroke-width="0.55" stroke-opacity="0.52" fill="none"/>
<circle cx="543.8" cy="62.6" r="0.55" fill="#8c8c8c" fill-opacity="0.52"/>
<path d="M527.7,67.2h2.5M528.9,65.9v2.5" stroke="#8c8c8c" stroke-width="0.55" stroke-opacity="0.52" fill="none"/>
<circle cx="528.9" cy="67.2" r="0.55" fill="#8c8c8c" fill-opacity="0.52"/>
<line x1="633.7" x2="633.7" y1="65.7" y2="72.9" stroke="#707070" stroke-width="0.7" stroke-opacity="0.62"/>
<circle cx="633.7" cy="69.3" r="0.75" fill="#707070" fill-opacity="0.8"/>
<line x1="639.6" x2="639.6" y1="69.6" y2="74.5" stroke="#707070" stroke-width="0.7" stroke-opacity="0.62"/>
<circle cx="639.6" cy="72.1" r="0.75" fill="#707070" fill-opacity="0.8"/>
<line x1="646.5" x2="646.5" y1="65.5" y2="76.0" stroke="#707070" stroke-width="0.7" stroke-opacity="0.62"/>
<circle cx="646.5" cy="70.8" r="0.75" fill="#707070" fill-opacity="0.8"/>
<line x1="653.2" x2="653.2" y1="64.4" y2="67.6" stroke="#707070" stroke-width="0.7" stroke-opacity="0.62"/>
<circle cx="653.2" cy="66.0" r="0.75" fill="#707070" fill-opacity="0.8"/>
<line x1="649.1" x2="649.1" y1="98.6" y2="102.8" stroke="#707070" stroke-width="0.7" stroke-opacity="0.62"/>
<circle cx="649.1" cy="100.7" r="0.75" fill="#707070" fill-opacity="0.8"/>
<path d="M508.9,108.9 509.0,108.2 509.1,107.5 509.2,106.8 509.3,106.2 509.4,105.5 509.6,104.9 509.7,104.2 509.8,103.6 509.9,102.9 510.0,102.3 510.1,101.7 510.2,101.1 510.3,100.5 510.5,99.9 510.6,99.3 510.7,98.7 510.8,98.1 510.9,97.6 511.0,97.0 511.1,96.4 511.2,95.9 511.3,95.4 511.5,94.8 511.6,94.3 511.7,93.8 511.8,93.3 511.9,92.8 512.0,92.3 512.1,91.8 512.2,91.3 512.3,90.8 512.5,90.2 512.6,89.7 512.7,89.1 512.8,88.6 512.9,88.0 513.0,87.5 513.1,86.9 513.2,86.4 513.4,85.9 513.5,85.4 513.6,84.9 513.7,84.4 513.8,84.0 513.9,83.6 514.0,83.3 514.1,82.9 514.2,82.6 514.4,82.4 514.5,82.2 514.6,82.0 514.7,81.9 514.8,81.9 514.9,81.9 515.0,82.0 515.1,82.1 515.3,82.4 515.4,82.7 515.5,83.0 515.6,83.4 515.7,83.9 515.8,84.4 515.9,85.0 516.0,85.6 516.1,86.3 516.3,87.0 516.4,87.7 516.5,88.4 516.6,89.2" fill="none" stroke="#111" stroke-width="0.55" stroke-linejoin="round"/>
<path d="M516.6,89.2 518.6,94.3 520.6,92.7 522.6,89.7 524.6,87.5 526.6,85.7 528.6,84.4 530.6,83.4 532.5,83.0 534.5,83.0 536.5,83.0 538.5,83.0 540.5,82.5 542.5,81.6 544.5,80.8 546.5,80.2 548.5,79.7 550.5,79.4 552.5,79.0 554.5,78.7 556.5,78.5 558.5,78.4 560.5,78.5 562.5,78.5 564.5,78.6 566.4,78.8 568.4,78.9 570.4,79.1 572.4,79.4 574.4,79.7 576.4,80.0 578.4,80.2 580.4,80.2 582.4,80.2 584.4,80.1 586.4,80.0 588.4,79.8 590.4,79.7 592.4,79.2 594.4,78.6 596.4,77.9 598.4,77.2 600.3,76.4 602.3,75.6 604.3,74.6 606.3,73.7 608.3,72.7 610.3,72.0 612.3,71.2 614.3,70.5 616.3,69.9 618.3,69.4 620.3,69.0 622.3,68.6 624.3,68.4 626.3,68.2 628.3,68.2 630.3,68.7 632.3,69.5 634.3,70.6 636.2,72.3 638.2,74.7 640.2,77.5 642.2,81.0 644.2,85.7 646.2,90.6 648.2,95.1 650.2,99.5 652.2,103.9 654.2,108.1" fill="none" stroke="#111" stroke-width="1.15" stroke-linejoin="round"/>
<path d="M508.9,108.9 509.0,107.9 509.2,107.0 509.3,106.1 509.5,105.2 509.7,104.3 509.8,103.4 510.0,102.6 510.1,101.7 510.3,100.9 510.4,100.0 510.6,99.2 510.7,98.4 510.9,97.6 511.0,96.9 511.2,96.1 511.3,95.4 511.5,94.7 511.6,93.9 511.8,93.3 512.0,92.6 512.1,91.9 512.3,91.2 512.4,90.4 512.6,89.7 512.7,88.9 512.9,88.2 513.0,87.4 513.2,86.7 513.3,86.0 513.5,85.3 513.6,84.6 513.8,84.0 513.9,83.5 514.1,83.0 514.3,82.6 514.4,82.3 514.6,82.1 514.7,81.9 514.9,81.9 515.0,82.0 515.2,82.2 515.3,82.7 515.5,83.2 515.6,83.8 515.8,84.5 515.9,85.4 516.1,86.2 516.2,87.2 516.4,88.1 516.6,89.1 516.7,90.1 516.9,91.0 517.0,92.0 517.2,92.9 517.3,93.8 517.5,94.9 517.6,96.0 517.8,97.1 517.9,98.3 518.1,99.5 518.2,100.7 518.4,102.0 518.5,103.2 518.7,104.4 518.9,105.6 519.0,106.8 519.2,108.0 519.3,109.3 519.5,110.5" fill="none" stroke="#ff1a1a" stroke-width="1.05" stroke-dasharray="2.7,1.15" stroke-linejoin="round"/>
<path d="M520.2,110.5 521.4,103.8 522.6,99.6 523.7,96.2 524.9,93.7 526.1,92.3 527.3,91.2 528.5,90.2 529.7,89.5 530.8,89.0 532.0,88.8 533.2,89.1 534.4,90.3 535.6,91.9 536.7,93.4 537.9,95.5 539.1,97.2 540.3,97.7 541.5,97.4 542.7,96.9 543.8,96.3 545.0,95.8 546.2,95.1 547.4,94.5 548.6,94.3 549.8,94.4 550.9,94.7 552.1,95.0 553.3,95.4 554.5,95.8 555.7,96.4 556.9,97.0 558.0,97.6 559.2,97.9 560.4,98.1 561.6,98.2 562.8,98.4 564.0,98.5 565.1,98.7 566.3,98.8 567.5,98.9 568.7,99.0 569.9,99.2 571.1,99.3 572.2,99.4 573.4,99.6 574.6,99.7 575.8,99.8 577.0,99.9 578.2,100.1 579.3,100.2 580.5,100.4 581.7,100.5 582.9,100.6 584.1,100.7 585.3,100.9 586.4,101.0 587.6,101.2 588.8,101.4 590.0,101.6 591.2,101.8 592.4,102.1 593.5,102.4 594.7,102.8 595.9,103.2 597.1,103.7 598.3,104.3 599.5,105.3 600.6,106.6 601.8,108.1" fill="none" stroke="#ff1a1a" stroke-width="1.05" stroke-dasharray="2.7,1.15" stroke-linejoin="round"/>
<path d="M578.7,108.1 579.9,105.8 581.1,103.7 582.3,101.8 583.5,99.9 584.6,98.2 585.8,96.7 587.0,95.3 588.2,93.9 589.4,92.7 590.5,91.4 591.7,90.1 592.9,88.9 594.1,87.7 595.3,86.6 596.5,85.4 597.6,84.3 598.8,83.2 600.0,82.1 601.2,81.1 602.4,80.0 603.6,79.0 604.7,77.9 605.9,76.9 607.1,76.0 608.3,75.1 609.5,74.4 610.7,73.7 611.8,73.0 613.0,72.4 614.2,71.8 615.4,71.2 616.6,70.7 617.8,70.2 618.9,69.8 620.1,69.5 621.3,69.2 622.5,68.9 623.7,68.7 624.9,68.5 626.0,68.3 627.2,68.2 628.4,68.1 629.6,68.2 630.8,68.3 632.0,68.6 633.1,68.9 634.3,69.2 635.5,69.5 636.7,69.9 637.9,70.4 639.1,71.0 640.2,71.7 641.4,72.5 642.6,73.6 643.8,74.9 645.0,76.5 646.2,78.2 647.3,80.0 648.5,81.9 649.7,84.0 650.9,86.5 652.1,89.0 653.3,91.4 654.4,93.6 655.6,95.8 656.8,98.1 658.0,100.7 659.2,104.0 660.4,108.1" fill="none" stroke="#1010ff" stroke-width="1.05" stroke-dasharray="2.7,1.15" stroke-linejoin="round"/>
<path d="M607.0,108.1 608.0,106.7 609.1,105.5 610.2,104.3 611.2,103.1 612.3,101.9 613.4,100.8 614.5,99.8 615.5,98.8 616.6,97.9 617.7,97.0 618.7,96.2 619.8,95.5 620.9,94.8 622.0,94.1 623.0,93.5 624.1,93.0 625.2,92.4 626.2,91.9 627.3,91.5 628.4,91.0 629.5,90.5 630.5,90.1 631.6,89.6 632.7,89.1 633.7,88.7 634.8,88.2 635.9,87.8 637.0,87.4 638.0,87.0 639.1,86.6 640.2,86.3 641.2,86.0 642.3,85.8 643.4,85.5 644.5,85.2 645.5,85.0 646.6,84.8 647.7,84.6 648.7,84.4 649.8,84.3 650.9,84.2 652.0,84.1 653.0,84.0 654.1,84.0 655.2,83.9 656.2,83.9 657.3,83.8 658.4,83.8 659.5,83.9 660.5,84.2 661.6,84.5 662.7,84.9 663.7,85.3 664.8,85.8 665.9,86.4 667.0,87.1 668.0,87.9 669.1,88.8 670.2,89.8 671.2,90.8 672.3,91.9 673.4,93.1 674.5,94.5 675.5,96.1 676.6,97.8 677.7,99.8 678.7,102.2 679.8,105.0 680.9,108.1" fill="none" stroke="#b04cb0" stroke-width="0.6" stroke-linejoin="round"/>
<path d="M607.0,108.1 607.6,107.4 608.2,106.7 608.9,106.0 609.5,105.4 610.2,104.7 610.8,104.1 611.4,103.5 612.1,102.9 612.7,102.3 613.4,101.7 614.0,101.1 614.6,100.6 615.3,100.0 615.9,99.5 616.6,98.9 617.2,98.4 617.8,97.9 618.5,97.4 619.1,96.9 619.8,96.5 620.4,96.1 621.0,95.7 621.7,95.3 622.3,95.0 623.0,94.6 623.6,94.3 624.2,94.0 624.9,93.7 625.5,93.5 626.2,93.3 626.8,93.1 627.4,92.9 628.1,92.7 628.7,92.5 629.4,92.4 630.0,92.3 630.6,92.2 631.3,92.1 631.9,92.1 632.6,92.0 633.2,92.0 633.8,92.0 634.5,92.1 635.1,92.2 635.8,92.4 636.4,92.6 637.0,92.8 637.7,93.1 638.3,93.4 639.0,93.9 639.6,94.4 640.2,94.9 640.9,95.5 641.5,96.1 642.2,96.7 642.8,97.3 643.4,97.9 644.1,98.5 644.7,99.1 645.4,99.8 646.0,100.5 646.6,101.2 647.3,101.9 647.9,102.7 648.6,103.6 649.2,104.5 649.8,105.6 650.5,106.8 651.1,108.1" fill="none" stroke="#b04cb0" stroke-width="0.6" stroke-linejoin="round"/>
<path d="M518.1,96.4 519.8,95.3 521.4,94.1 523.0,93.1 524.7,92.0 526.3,91.0 527.9,90.0 529.5,89.1 531.2,88.2 532.8,87.4 534.4,86.5 536.1,85.8 537.7,85.0 539.3,84.3 540.9,83.6 542.6,82.9 544.2,82.3 545.8,81.7 547.5,81.3 549.1,80.9 550.7,80.6 552.4,80.3 554.0,80.1 555.6,79.9 557.2,79.8 558.9,79.8 560.5,79.8 562.1,80.0 563.8,80.2 565.4,80.4 567.0,80.7 568.6,81.0 570.3,81.3 571.9,81.8 573.5,82.3 575.2,82.8 576.8,83.4 578.4,83.9 580.1,84.4 581.7,85.0 583.3,85.5 584.9,86.1 586.6,86.7 588.2,87.2 589.8,87.7 591.5,88.2 593.1,88.7 594.7,89.1 596.4,89.6 598.0,90.0 599.6,90.5 601.2,91.0 602.9,91.5 604.5,91.9 606.1,92.5 607.8,93.0 609.4,93.6 611.0,94.2 612.6,94.9 614.3,95.7 615.9,96.6 617.5,97.5 619.2,98.4 620.8,99.3 622.4,100.3 624.1,101.3 625.7,102.4 627.3,103.9 628.9,105.8 630.6,108.1" fill="none" stroke="#1a9a1a" stroke-width="1.05" stroke-dasharray="4.2,1.1,0.9,1.1" stroke-linejoin="round"/>
<path d="M539.2,108.1 540.4,107.0 541.6,106.0 542.8,105.0 543.9,104.0 545.1,103.1 546.3,102.3 547.5,101.6 548.7,100.9 549.9,100.2 551.1,99.7 552.3,99.1 553.5,98.6 554.7,98.1 555.9,97.6 557.0,97.1 558.2,96.6 559.4,96.1 560.6,95.6 561.8,95.1 563.0,94.6 564.2,94.1 565.4,93.6 566.6,93.1 567.8,92.5 568.9,92.0 570.1,91.5 571.3,90.9 572.5,90.3 573.7,89.8 574.9,89.2 576.1,88.7 577.3,88.2 578.5,87.7 579.7,87.3 580.9,86.9 582.0,86.5 583.2,86.2 584.4,85.8 585.6,85.5 586.8,85.2 588.0,85.0 589.2,84.9 590.4,84.7 591.6,84.6 592.8,84.5 593.9,84.5 595.1,84.4 596.3,84.4 597.5,84.3 598.7,84.4 599.9,84.6 601.1,85.0 602.3,85.4 603.5,85.8 604.7,86.3 605.9,86.8 607.0,87.4 608.2,88.0 609.4,88.8 610.6,89.7 611.8,90.9 613.0,92.4 614.2,94.0 615.4,95.7 616.6,97.4 617.8,99.1 619.0,101.0 620.1,103.5 621.3,108.1" fill="none" stroke="#c4c400" stroke-width="1.05" stroke-dasharray="2.7,1.15" stroke-linejoin="round"/>
</g>
<line x1="494.0" y1="6.6" x2="494.0" y2="105.6" stroke="#000" stroke-opacity="0.28" stroke-width="0.85" stroke-linecap="square"/>
<line x1="494.0" y1="105.6" x2="685.1" y2="105.6" stroke="#000" stroke-opacity="0.32" stroke-width="0.85" stroke-linecap="square"/>
<line x1="494.0" y1="6.6" x2="685.1" y2="6.6" stroke="#000" stroke-opacity="0.42" stroke-width="0.85" stroke-linecap="square"/>
<line x1="685.1" y1="6.6" x2="685.1" y2="105.6" stroke="#000" stroke-opacity="0.38" stroke-width="0.85" stroke-linecap="square"/>
<line x1="497.08" x2="497.08" y1="105.6" y2="106.8" stroke="#000" stroke-opacity="0.25" stroke-width="0.5"/>
<line x1="507.35" x2="507.35" y1="105.6" y2="106.8" stroke="#000" stroke-opacity="0.25" stroke-width="0.5"/>
<line x1="517.62" x2="517.62" y1="105.6" y2="106.8" stroke="#000" stroke-opacity="0.25" stroke-width="0.5"/>
<line x1="527.89" x2="527.89" y1="105.6" y2="106.8" stroke="#000" stroke-opacity="0.25" stroke-width="0.5"/>
<line x1="538.16" x2="538.16" y1="105.6" y2="106.8" stroke="#000" stroke-opacity="0.25" stroke-width="0.5"/>
<line x1="548.42" x2="548.42" y1="105.6" y2="106.8" stroke="#000" stroke-opacity="0.25" stroke-width="0.5"/>
<line x1="558.69" x2="558.69" y1="105.6" y2="106.8" stroke="#000" stroke-opacity="0.25" stroke-width="0.5"/>
<line x1="568.96" x2="568.96" y1="105.6" y2="106.8" stroke="#000" stroke-opacity="0.25" stroke-width="0.5"/>
<line x1="579.23" x2="579.23" y1="105.6" y2="106.8" stroke="#000" stroke-opacity="0.25" stroke-width="0.5"/>
<line x1="589.50" x2="589.50" y1="105.6" y2="106.8" stroke="#000" stroke-opacity="0.25" stroke-width="0.5"/>
<line x1="599.77" x2="599.77" y1="105.6" y2="106.8" stroke="#000" stroke-opacity="0.25" stroke-width="0.5"/>
<line x1="610.04" x2="610.04" y1="105.6" y2="106.8" stroke="#000" stroke-opacity="0.25" stroke-width="0.5"/>
<line x1="620.31" x2="620.31" y1="105.6" y2="106.8" stroke="#000" stroke-opacity="0.25" stroke-width="0.5"/>
<line x1="630.58" x2="630.58" y1="105.6" y2="106.8" stroke="#000" stroke-opacity="0.25" stroke-width="0.5"/>
<line x1="640.84" x2="640.84" y1="105.6" y2="106.8" stroke="#000" stroke-opacity="0.25" stroke-width="0.5"/>
<line x1="651.11" x2="651.11" y1="105.6" y2="106.8" stroke="#000" stroke-opacity="0.25" stroke-width="0.5"/>
<line x1="661.38" x2="661.38" y1="105.6" y2="106.8" stroke="#000" stroke-opacity="0.25" stroke-width="0.5"/>
<line x1="671.65" x2="671.65" y1="105.6" y2="106.8" stroke="#000" stroke-opacity="0.25" stroke-width="0.5"/>
<line x1="681.92" x2="681.92" y1="105.6" y2="106.8" stroke="#000" stroke-opacity="0.25" stroke-width="0.5"/>
<line x1="492.8" x2="494.0" y1="23.80" y2="23.80" stroke="#000" stroke-opacity="0.25" stroke-width="0.5"/>
<line x1="492.8" x2="494.0" y1="40.16" y2="40.16" stroke="#000" stroke-opacity="0.25" stroke-width="0.5"/>
<line x1="492.8" x2="494.0" y1="56.52" y2="56.52" stroke="#000" stroke-opacity="0.25" stroke-width="0.5"/>
<line x1="492.8" x2="494.0" y1="72.88" y2="72.88" stroke="#000" stroke-opacity="0.25" stroke-width="0.5"/>
<line x1="492.8" x2="494.0" y1="89.24" y2="89.24" stroke="#000" stroke-opacity="0.25" stroke-width="0.5"/>
<line x1="492.8" x2="494.0" y1="105.60" y2="105.60" stroke="#000" stroke-opacity="0.25" stroke-width="0.5"/>
<rect x="496.15" y="8.70" width="186.55" height="14.90" rx="0.8" fill="#fff" fill-opacity="0.8" stroke="#c8c8c8" stroke-width="0.55"/>
<line x1="497.75" x2="507.55" y1="12.60" y2="12.60" stroke="#111" stroke-width="1.25"/>
<line x1="497.75" x2="507.55" y1="19.30" y2="19.30" stroke="#ff1a1a" stroke-width="1.15" stroke-dasharray="2.7,1.15"/>
<line x1="561.50" x2="571.30" y1="12.60" y2="12.60" stroke="#1010ff" stroke-width="1.15" stroke-dasharray="2.7,1.15"/>
<line x1="561.50" x2="571.30" y1="19.30" y2="19.30" stroke="#a030a0" stroke-width="1.15" stroke-dasharray="1.0,0.65"/>
<line x1="627.40" x2="637.20" y1="12.60" y2="12.60" stroke="#1a9a1a" stroke-width="1.15" stroke-dasharray="4.2,1.1,0.9,1.1"/>
<line x1="627.40" x2="637.20" y1="19.30" y2="19.30" stroke="#c4c400" stroke-width="1.15" stroke-dasharray="2.7,1.15"/>
<clipPath id="c3"><rect x="144.25" y="149.4" width="191.0" height="99.29999999999998"/></clipPath>
<g clip-path="url(#c3)">
<path d="M174.5,208.1h2.5M175.8,206.9v2.5" stroke="#8c8c8c" stroke-width="0.55" stroke-opacity="0.52" fill="none"/>
<circle cx="175.8" cy="208.1" r="0.55" fill="#8c8c8c" fill-opacity="0.52"/>
<path d="M177.7,205.7h2.5M179.0,204.4v2.5" stroke="#8c8c8c" stroke-width="0.55" stroke-opacity="0.52" fill="none"/>
<circle cx="179.0" cy="205.7" r="0.55" fill="#8c8c8c" fill-opacity="0.52"/>
<path d="M181.6,193.2h2.5M182.9,192.0v2.5" stroke="#8c8c8c" stroke-width="0.55" stroke-opacity="0.52" fill="none"/>
<circle cx="182.9" cy="193.2" r="0.55" fill="#8c8c8c" fill-opacity="0.52"/>
<path d="M183.3,186.0h2.5M184.5,184.8v2.5" stroke="#8c8c8c" stroke-width="0.55" stroke-opacity="0.52" fill="none"/>
<circle cx="184.5" cy="186.0" r="0.55" fill="#8c8c8c" fill-opacity="0.52"/>
<path d="M184.9,182.9h2.5M186.1,181.7v2.5" stroke="#8c8c8c" stroke-width="0.55" stroke-opacity="0.52" fill="none"/>
<circle cx="186.1" cy="182.9" r="0.55" fill="#8c8c8c" fill-opacity="0.52"/>
<path d="M186.5,180.3h2.5M187.8,179.1v2.5" stroke="#8c8c8c" stroke-width="0.55" stroke-opacity="0.52" fill="none"/>
<circle cx="187.8" cy="180.3" r="0.55" fill="#8c8c8c" fill-opacity="0.52"/>
<path d="M188.1,180.0h2.5M189.3,178.7v2.5" stroke="#8c8c8c" stroke-width="0.55" stroke-opacity="0.52" fill="none"/>
<circle cx="189.3" cy="180.0" r="0.55" fill="#8c8c8c" fill-opacity="0.52"/>
<path d="M189.1,187.0h2.5M190.4,185.8v2.5" stroke="#8c8c8c" stroke-width="0.55" stroke-opacity="0.52" fill="none"/>
<circle cx="190.4" cy="187.0" r="0.55" fill="#8c8c8c" fill-opacity="0.52"/>
<path d="M190.8,188.7h2.5M192.0,187.4v2.5" stroke="#8c8c8c" stroke-width="0.55" stroke-opacity="0.52" fill="none"/>
<circle cx="192.0" cy="188.7" r="0.55" fill="#8c8c8c" fill-opacity="0.52"/>
<path d="M191.7,193.2h2.5M192.9,192.0v2.5" stroke="#8c8c8c" stroke-width="0.55" stroke-opacity="0.52" fill="none"/>
<circle cx="192.9" cy="193.2" r="0.55" fill="#8c8c8c" fill-opacity="0.52"/>
<path d="M193.0,204.0h2.5M194.3,202.8v2.5" stroke="#8c8c8c" stroke-width="0.55" stroke-opacity="0.52" fill="none"/>
<circle cx="194.3" cy="204.0" r="0.55" fill="#8c8c8c" fill-opacity="0.52"/>
<path d="M195.0,216.0h2.5M196.2,214.7v2.5" stroke="#8c8c8c" stroke-width="0.55" stroke-opacity="0.52" fill="none"/>
<circle cx="196.2" cy="216.0" r="0.55" fill="#8c8c8c" fill-opacity="0.52"/>
<path d="M196.6,227.3h2.5M197.9,226.0v2.5" stroke="#8c8c8c" stroke-width="0.55" stroke-opacity="0.52" fill="none"/>
<circle cx="197.9" cy="227.3" r="0.55" fill="#8c8c8c" fill-opacity="0.52"/>
<path d="M214.1,225.8h2.5M215.3,224.5v2.5" stroke="#8c8c8c" stroke-width="0.55" stroke-opacity="0.52" fill="none"/>
<circle cx="215.3" cy="225.8" r="0.55" fill="#8c8c8c" fill-opacity="0.52"/>
<path d="M217.7,229.9h2.5M218.9,228.6v2.5" stroke="#8c8c8c" stroke-width="0.55" stroke-opacity="0.52" fill="none"/>
<circle cx="218.9" cy="229.9" r="0.55" fill="#8c8c8c" fill-opacity="0.52"/>
<path d="M222.2,220.9h2.5M223.4,219.6v2.5" stroke="#8c8c8c" stroke-width="0.55" stroke-opacity="0.52" fill="none"/>
<circle cx="223.4" cy="220.9" r="0.55" fill="#8c8c8c" fill-opacity="0.52"/>
<path d="M220.0,238.1h2.5M221.3,236.8v2.5" stroke="#8c8c8c" stroke-width="0.55" stroke-opacity="0.52" fill="none"/>
<circle cx="221.3" cy="238.1" r="0.55" fill="#8c8c8c" fill-opacity="0.52"/>
<line x1="284.4" x2="284.4" y1="211.2" y2="216.8" stroke="#707070" stroke-width="0.7" stroke-opacity="0.62"/>
<circle cx="284.4" cy="214.0" r="0.75" fill="#707070" fill-opacity="0.8"/>
<line x1="290.8" x2="290.8" y1="208.6" y2="215.2" stroke="#707070" stroke-width="0.7" stroke-opacity="0.62"/>
<circle cx="290.8" cy="211.9" r="0.75" fill="#707070" fill-opacity="0.8"/>
<line x1="297.3" x2="297.3" y1="208.0" y2="221.7" stroke="#707070" stroke-width="0.7" stroke-opacity="0.62"/>
<circle cx="297.3" cy="214.8" r="0.75" fill="#707070" fill-opacity="0.8"/>
<line x1="303.4" x2="303.4" y1="207.1" y2="211.1" stroke="#707070" stroke-width="0.7" stroke-opacity="0.62"/>
<circle cx="303.4" cy="209.1" r="0.75" fill="#707070" fill-opacity="0.8"/>
<path d="M196.6,250.3 198.2,249.6 199.8,248.8 201.4,248.0 203.1,247.2 204.7,246.5 206.3,245.7 207.9,245.0 209.5,244.3 211.1,243.6 212.7,242.9 214.3,242.2 215.9,241.5 217.5,240.9 219.1,240.3 220.7,239.7 222.3,239.1 223.9,238.5 225.6,238.0 227.2,237.4 228.8,236.9 230.4,236.4 232.0,236.0 233.6,235.5 235.2,235.1 236.8,234.7 238.4,234.3 240.0,234.0 241.6,233.7 243.2,233.4 244.8,233.1 246.4,232.8 248.1,232.5 249.7,232.1 251.3,231.7 252.9,231.2 254.5,230.6 256.1,230.0 257.7,229.4 259.3,228.7 260.9,228.0 262.5,227.1 264.1,226.2 265.7,225.2 267.3,224.2 268.9,223.4 270.6,222.7 272.2,222.1 273.8,221.6 275.4,221.0 277.0,220.6 278.6,220.3 280.2,220.1 281.8,220.1 283.4,220.3 285.0,220.7 286.6,221.2 288.2,221.9 289.8,222.7 291.5,223.6 293.1,225.2 294.7,227.5 296.3,230.0 297.9,232.6 299.5,235.4 301.1,238.4 302.7,241.3 304.3,244.3 305.9,247.3 307.5,250.3" fill="none" stroke="#111" stroke-width="1.15" stroke-linejoin="round"/>
<path d="M156.1,249.5 156.1,249.4 156.1,249.2 156.2,249.1 156.2,249.0 156.2,248.9 156.3,248.7 156.3,248.6 156.3,248.5 156.4,248.4 156.4,248.3 156.4,248.2 156.5,248.1 156.5,248.0 156.5,247.9 156.6,247.8 156.6,247.8 156.6,247.7 156.6,247.6 156.7,247.6 156.7,247.5 156.7,247.4 156.8,247.4 156.8,247.3 156.8,247.3 156.9,247.3 156.9,247.2 156.9,247.2 157.0,247.2 157.0,247.1 157.0,247.1 157.1,247.1 157.1,247.1 157.1,247.1 157.2,247.1 157.2,247.1 157.2,247.1 157.3,247.1 157.3,247.1 157.3,247.1 157.4,247.1 157.4,247.2 157.4,247.2 157.5,247.2 157.5,247.3 157.5,247.3 157.6,247.3 157.6,247.4 157.6,247.4 157.7,247.5 157.7,247.6 157.7,247.6 157.8,247.7 157.8,247.8 157.8,247.8 157.9,247.9 157.9,248.0 157.9,248.1 158.0,248.2 158.0,248.3 158.0,248.4 158.1,248.5 158.1,248.6 158.1,248.7 158.2,248.9 158.2,249.0 158.2,249.1 158.3,249.2 158.3,249.4 158.3,249.5" fill="none" stroke="#ff1a1a" stroke-width="1.16" stroke-linejoin="round"/>
<path d="M244.4,250.3 245.3,248.7 246.2,247.1 247.1,245.6 248.0,244.2 248.9,242.8 249.8,241.5 250.7,240.3 251.6,239.1 252.5,238.0 253.4,236.9 254.3,235.9 255.2,234.9 256.1,233.9 257.0,232.9 257.9,232.1 258.8,231.2 259.7,230.4 260.6,229.6 261.5,228.9 262.4,228.2 263.3,227.5 264.2,226.8 265.1,226.1 266.0,225.5 266.9,224.9 267.8,224.4 268.7,223.9 269.6,223.4 270.5,223.0 271.4,222.7 272.3,222.3 273.2,222.0 274.1,221.6 275.0,221.3 275.9,221.0 276.8,220.7 277.7,220.5 278.6,220.3 279.5,220.1 280.4,220.1 281.3,220.1 282.2,220.1 283.1,220.3 284.0,220.4 284.9,220.7 285.8,220.9 286.7,221.3 287.6,221.6 288.5,222.0 289.4,222.5 290.3,222.9 291.2,223.4 292.1,224.1 293.0,225.1 293.9,226.3 294.8,227.7 295.7,229.1 296.6,230.4 297.5,231.9 298.4,233.4 299.3,235.0 300.2,236.6 301.1,238.4 302.0,240.1 302.9,242.0 303.8,244.0 304.7,246.0 305.6,248.1 306.5,250.3" fill="none" stroke="#1010ff" stroke-width="1.05" stroke-dasharray="2.7,1.15" stroke-linejoin="round"/>
<path d="M197.1,250.8 198.2,250.4 199.2,249.9 200.3,249.4 201.3,248.9 202.4,248.4 203.4,247.9 204.5,247.4 205.5,246.9 206.6,246.4 207.6,245.9 208.7,245.4 209.7,245.0 210.8,244.5 211.8,244.1 212.9,243.6 213.9,243.2 215.0,242.7 216.0,242.3 217.1,241.9 218.1,241.5 219.2,241.1 220.2,240.7 221.3,240.3 222.3,239.9 223.4,239.5 224.4,239.2 225.5,238.8 226.5,238.5 227.6,238.1 228.6,237.8 229.7,237.5 230.7,237.1 231.8,236.8 232.8,236.5 233.9,236.2 234.9,235.9 236.0,235.7 237.0,235.4 238.1,235.2 239.1,235.0 240.2,234.8 241.2,234.6 242.3,234.4 243.3,234.3 244.3,234.1 245.4,234.0 246.4,234.0 247.5,234.0 248.5,234.1 249.6,234.3 250.6,234.6 251.7,235.0 252.7,235.3 253.8,235.7 254.8,236.2 255.9,236.9 256.9,237.6 258.0,238.4 259.0,239.2 260.1,240.0 261.1,240.9 262.2,241.9 263.2,243.0 264.3,244.2 265.3,245.3 266.4,246.5 267.4,247.7 268.5,249.0 269.5,250.3" fill="none" stroke="#c4c400" stroke-width="1.05" stroke-dasharray="2.7,1.15" stroke-linejoin="round"/>
</g>
<line x1="144.25" y1="149.4" x2="144.25" y2="248.7" stroke="#000" stroke-opacity="0.28" stroke-width="0.85" stroke-linecap="square"/>
<line x1="144.25" y1="248.7" x2="335.25" y2="248.7" stroke="#000" stroke-opacity="0.32" stroke-width="0.85" stroke-linecap="square"/>
<line x1="144.25" y1="149.4" x2="335.25" y2="149.4" stroke="#000" stroke-opacity="0.42" stroke-width="0.85" stroke-linecap="square"/>
<line x1="335.25" y1="149.4" x2="335.25" y2="248.7" stroke="#000" stroke-opacity="0.38" stroke-width="0.85" stroke-linecap="square"/>
<line x1="147.33" x2="147.33" y1="248.7" y2="249.89999999999998" stroke="#000" stroke-opacity="0.25" stroke-width="0.5"/>
<line x1="157.60" x2="157.60" y1="248.7" y2="249.89999999999998" stroke="#000" stroke-opacity="0.25" stroke-width="0.5"/>
<line x1="167.87" x2="167.87" y1="248.7" y2="249.89999999999998" stroke="#000" stroke-opacity="0.25" stroke-width="0.5"/>
<line x1="178.14" x2="178.14" y1="248.7" y2="249.89999999999998" stroke="#000" stroke-opacity="0.25" stroke-width="0.5"/>
<line x1="188.41" x2="188.41" y1="248.7" y2="249.89999999999998" stroke="#000" stroke-opacity="0.25" stroke-width="0.5"/>
<line x1="198.67" x2="198.67" y1="248.7" y2="249.89999999999998" stroke="#000" stroke-opacity="0.25" stroke-width="0.5"/>
<line x1="208.94" x2="208.94" y1="248.7" y2="249.89999999999998" stroke="#000" stroke-opacity="0.25" stroke-width="0.5"/>
<line x1="219.21" x2="219.21" y1="248.7" y2="249.89999999999998" stroke="#000" stroke-opacity="0.25" stroke-width="0.5"/>
<line x1="229.48" x2="229.48" y1="248.7" y2="249.89999999999998" stroke="#000" stroke-opacity="0.25" stroke-width="0.5"/>
<line x1="239.75" x2="239.75" y1="248.7" y2="249.89999999999998" stroke="#000" stroke-opacity="0.25" stroke-width="0.5"/>
<line x1="250.02" x2="250.02" y1="248.7" y2="249.89999999999998" stroke="#000" stroke-opacity="0.25" stroke-width="0.5"/>
<line x1="260.29" x2="260.29" y1="248.7" y2="249.89999999999998" stroke="#000" stroke-opacity="0.25" stroke-width="0.5"/>
<line x1="270.56" x2="270.56" y1="248.7" y2="249.89999999999998" stroke="#000" stroke-opacity="0.25" stroke-width="0.5"/>
<line x1="280.83" x2="280.83" y1="248.7" y2="249.89999999999998" stroke="#000" stroke-opacity="0.25" stroke-width="0.5"/>
<line x1="291.09" x2="291.09" y1="248.7" y2="249.89999999999998" stroke="#000" stroke-opacity="0.25" stroke-width="0.5"/>
<line x1="301.36" x2="301.36" y1="248.7" y2="249.89999999999998" stroke="#000" stroke-opacity="0.25" stroke-width="0.5"/>
<line x1="311.63" x2="311.63" y1="248.7" y2="249.89999999999998" stroke="#000" stroke-opacity="0.25" stroke-width="0.5"/>
<line x1="321.90" x2="321.90" y1="248.7" y2="249.89999999999998" stroke="#000" stroke-opacity="0.25" stroke-width="0.5"/>
<line x1="332.17" x2="332.17" y1="248.7" y2="249.89999999999998" stroke="#000" stroke-opacity="0.25" stroke-width="0.5"/>
<line x1="143.05" x2="144.25" y1="166.90" y2="166.90" stroke="#000" stroke-opacity="0.25" stroke-width="0.5"/>
<line x1="143.05" x2="144.25" y1="183.26" y2="183.26" stroke="#000" stroke-opacity="0.25" stroke-width="0.5"/>
<line x1="143.05" x2="144.25" y1="199.62" y2="199.62" stroke="#000" stroke-opacity="0.25" stroke-width="0.5"/>
<line x1="143.05" x2="144.25" y1="215.98" y2="215.98" stroke="#000" stroke-opacity="0.25" stroke-width="0.5"/>
<line x1="143.05" x2="144.25" y1="232.34" y2="232.34" stroke="#000" stroke-opacity="0.25" stroke-width="0.5"/>
<line x1="143.05" x2="144.25" y1="248.70" y2="248.70" stroke="#000" stroke-opacity="0.25" stroke-width="0.5"/>
<rect x="146.40" y="151.50" width="186.55" height="14.90" rx="0.8" fill="#fff" fill-opacity="0.8" stroke="#c8c8c8" stroke-width="0.55"/>
<line x1="148.00" x2="157.80" y1="155.40" y2="155.40" stroke="#111" stroke-width="1.25"/>
<line x1="148.00" x2="157.80" y1="162.10" y2="162.10" stroke="#ff1a1a" stroke-width="1.15" stroke-dasharray="2.7,1.15"/>
<line x1="211.75" x2="221.55" y1="155.40" y2="155.40" stroke="#1010ff" stroke-width="1.15" stroke-dasharray="2.7,1.15"/>
<line x1="211.75" x2="221.55" y1="162.10" y2="162.10" stroke="#a030a0" stroke-width="1.15" stroke-dasharray="1.0,0.65"/>
<line x1="277.65" x2="287.45" y1="155.40" y2="155.40" stroke="#1a9a1a" stroke-width="1.15" stroke-dasharray="4.2,1.1,0.9,1.1"/>
<line x1="277.65" x2="287.45" y1="162.10" y2="162.10" stroke="#c4c400" stroke-width="1.15" stroke-dasharray="2.7,1.15"/>
<clipPath id="c4"><rect x="385.2" y="149.4" width="191.00000000000006" height="99.4"/></clipPath>
<g clip-path="url(#c4)">
<polygon points="511.5,190.2 515.6,194.6 521.8,198.9 526.9,202.0 532.0,204.0 537.2,201.5 542.3,195.5 546.4,192.0 550.2,189.4 550.2,198.9 546.4,200.7 542.3,202.3 537.2,205.4 532.0,206.9 526.9,205.9 521.8,204.0 515.6,201.5 511.5,199.4" fill="#d2d23c" fill-opacity="0.75"/>
<path d="M408.0,169.1h2.5M409.2,167.9v2.5" stroke="#8c8c8c" stroke-width="0.55" stroke-opacity="0.52" fill="none"/>
<circle cx="409.2" cy="169.1" r="0.55" fill="#8c8c8c" fill-opacity="0.52"/>
<path d="M410.6,174.7h2.5M411.9,173.4v2.5" stroke="#8c8c8c" stroke-width="0.55" stroke-opacity="0.52" fill="none"/>
<circle cx="411.9" cy="174.7" r="0.55" fill="#8c8c8c" fill-opacity="0.52"/>
<path d="M413.5,178.0h2.5M414.8,176.7v2.5" stroke="#8c8c8c" stroke-width="0.55" stroke-opacity="0.52" fill="none"/>
<circle cx="414.8" cy="178.0" r="0.55" fill="#8c8c8c" fill-opacity="0.52"/>
<path d="M417.8,168.1h2.5M419.1,166.9v2.5" stroke="#8c8c8c" stroke-width="0.55" stroke-opacity="0.52" fill="none"/>
<circle cx="419.1" cy="168.1" r="0.55" fill="#8c8c8c" fill-opacity="0.52"/>
<path d="M417.8,180.6h2.5M419.1,179.3v2.5" stroke="#8c8c8c" stroke-width="0.55" stroke-opacity="0.52" fill="none"/>
<circle cx="419.1" cy="180.6" r="0.55" fill="#8c8c8c" fill-opacity="0.52"/>
<path d="M414.4,193.2h2.5M415.7,191.9v2.5" stroke="#8c8c8c" stroke-width="0.55" stroke-opacity="0.52" fill="none"/>
<circle cx="415.7" cy="193.2" r="0.55" fill="#8c8c8c" fill-opacity="0.52"/>
<path d="M425.2,169.1h2.5M426.5,167.9v2.5" stroke="#8c8c8c" stroke-width="0.55" stroke-opacity="0.52" fill="none"/>
<circle cx="426.5" cy="169.1" r="0.55" fill="#8c8c8c" fill-opacity="0.52"/>
<path d="M432.3,170.4h2.5M433.6,169.2v2.5" stroke="#8c8c8c" stroke-width="0.55" stroke-opacity="0.52" fill="none"/>
<circle cx="433.6" cy="170.4" r="0.55" fill="#8c8c8c" fill-opacity="0.52"/>
<path d="M433.0,177.0h2.5M434.3,175.7v2.5" stroke="#8c8c8c" stroke-width="0.55" stroke-opacity="0.52" fill="none"/>
<circle cx="434.3" cy="177.0" r="0.55" fill="#8c8c8c" fill-opacity="0.52"/>
<path d="M464.8,186.1h2.5M466.0,184.9v2.5" stroke="#8c8c8c" stroke-width="0.55" stroke-opacity="0.52" fill="none"/>
<circle cx="466.0" cy="186.1" r="0.55" fill="#8c8c8c" fill-opacity="0.52"/>
<path d="M459.2,195.8h2.5M460.5,194.5v2.5" stroke="#8c8c8c" stroke-width="0.55" stroke-opacity="0.52" fill="none"/>
<circle cx="460.5" cy="195.8" r="0.55" fill="#8c8c8c" fill-opacity="0.52"/>
<path d="M466.4,196.8h2.5M467.7,195.5v2.5" stroke="#8c8c8c" stroke-width="0.55" stroke-opacity="0.52" fill="none"/>
<circle cx="467.7" cy="196.8" r="0.55" fill="#8c8c8c" fill-opacity="0.52"/>
<path d="M538.5,176.3h2.5M539.7,175.1v2.5" stroke="#8c8c8c" stroke-width="0.55" stroke-opacity="0.52" fill="none"/>
<circle cx="539.7" cy="176.3" r="0.55" fill="#8c8c8c" fill-opacity="0.52"/>
<path d="M543.1,179.6h2.5M544.4,178.3v2.5" stroke="#8c8c8c" stroke-width="0.55" stroke-opacity="0.52" fill="none"/>
<circle cx="544.4" cy="179.6" r="0.55" fill="#8c8c8c" fill-opacity="0.52"/>
<path d="M546.7,185.2h2.5M548.0,183.9v2.5" stroke="#8c8c8c" stroke-width="0.55" stroke-opacity="0.52" fill="none"/>
<circle cx="548.0" cy="185.2" r="0.55" fill="#8c8c8c" fill-opacity="0.52"/>
<line x1="514.6" x2="514.6" y1="195.8" y2="200.7" stroke="#707070" stroke-width="0.7" stroke-opacity="0.62"/>
<circle cx="514.6" cy="198.2" r="0.75" fill="#707070" fill-opacity="0.8"/>
<line x1="523.8" x2="523.8" y1="197.4" y2="201.7" stroke="#707070" stroke-width="0.7" stroke-opacity="0.62"/>
<circle cx="523.8" cy="199.6" r="0.75" fill="#707070" fill-opacity="0.8"/>
<line x1="528.4" x2="528.4" y1="203.2" y2="208.7" stroke="#707070" stroke-width="0.7" stroke-opacity="0.62"/>
<circle cx="528.4" cy="205.9" r="0.75" fill="#707070" fill-opacity="0.8"/>
<line x1="532.6" x2="532.6" y1="202.8" y2="206.8" stroke="#707070" stroke-width="0.7" stroke-opacity="0.62"/>
<circle cx="532.6" cy="204.8" r="0.75" fill="#707070" fill-opacity="0.8"/>
<line x1="536.2" x2="536.2" y1="205.4" y2="215.3" stroke="#707070" stroke-width="0.7" stroke-opacity="0.62"/>
<circle cx="536.2" cy="210.4" r="0.75" fill="#707070" fill-opacity="0.8"/>
<line x1="539.2" x2="539.2" y1="199.1" y2="207.2" stroke="#707070" stroke-width="0.7" stroke-opacity="0.62"/>
<circle cx="539.2" cy="203.2" r="0.75" fill="#707070" fill-opacity="0.8"/>
<line x1="543.3" x2="543.3" y1="192.5" y2="197.4" stroke="#707070" stroke-width="0.7" stroke-opacity="0.62"/>
<circle cx="543.3" cy="195.0" r="0.75" fill="#707070" fill-opacity="0.8"/>
<path d="M393.4,252.2 393.5,251.3 393.7,250.5 393.8,249.6 393.9,248.8 394.1,247.9 394.2,247.1 394.3,246.3 394.5,245.5 394.6,244.8 394.7,244.0 394.9,243.3 395.0,242.5 395.1,241.8 395.2,241.1 395.4,240.4 395.5,239.8 395.6,239.1 395.8,238.5 395.9,237.9 396.0,237.3 396.2,236.6 396.3,236.0 396.4,235.3 396.6,234.6 396.7,233.9 396.8,233.3 397.0,232.7 397.1,232.1 397.2,231.5 397.3,231.1 397.5,230.7 397.6,230.3 397.7,230.1 397.9,230.0 398.0,230.0 398.1,230.1 398.3,230.3 398.4,230.7 398.5,231.1 398.7,231.5 398.8,232.1 398.9,232.7 399.0,233.3 399.2,233.9 399.3,234.6 399.4,235.3 399.6,236.0 399.7,236.6 399.8,237.3 400.0,237.9 400.1,238.5 400.2,239.1 400.4,239.8 400.5,240.4 400.6,241.1 400.7,241.8 400.9,242.5 401.0,243.3 401.1,244.0 401.3,244.8 401.4,245.5 401.5,246.3 401.7,247.1 401.8,247.9 401.9,248.8 402.1,249.6 402.2,250.5 402.3,251.3 402.5,252.2" fill="none" stroke="#111" stroke-width="0.55" stroke-linejoin="round"/>
<path d="M407.8,250.6 410.1,247.0 412.3,244.6 414.6,243.5 416.9,242.7 419.1,241.9 421.4,240.8 423.7,239.7 425.9,238.6 428.2,237.6 430.5,236.5 432.8,235.4 435.0,234.4 437.3,233.3 439.6,232.3 441.8,231.3 444.1,230.2 446.4,229.2 448.6,228.2 450.9,227.3 453.2,226.3 455.5,225.3 457.7,224.4 460.0,223.5 462.3,222.7 464.5,221.9 466.8,221.2 469.1,220.5 471.3,219.9 473.6,219.4 475.9,218.9 478.1,218.4 480.4,217.9 482.7,217.4 485.0,216.9 487.2,216.3 489.5,215.7 491.8,215.0 494.0,214.0 496.3,212.9 498.6,211.7 500.8,210.5 503.1,209.4 505.4,208.1 507.7,206.9 509.9,205.8 512.2,205.1 514.5,204.4 516.7,203.8 519.0,203.4 521.3,203.3 523.5,203.6 525.8,204.1 528.1,204.8 530.3,205.7 532.6,206.7 534.9,208.7 537.2,211.5 539.4,214.8 541.7,219.0 544.0,224.1 546.2,228.7 548.5,232.6 550.8,234.3 553.0,235.3 555.3,236.7 557.6,239.1 559.9,241.9 562.1,245.2 564.4,250.6" fill="none" stroke="#111" stroke-width="1.15" stroke-linejoin="round"/>
<path d="M393.4,252.2 393.5,251.3 393.7,250.5 393.8,249.6 393.9,248.8 394.1,247.9 394.2,247.1 394.3,246.3 394.5,245.5 394.6,244.8 394.7,244.0 394.9,243.3 395.0,242.5 395.1,241.8 395.2,241.1 395.4,240.4 395.5,239.8 395.6,239.1 395.8,238.5 395.9,237.9 396.0,237.3 396.2,236.6 396.3,236.0 396.4,235.3 396.6,234.6 396.7,233.9 396.8,233.3 397.0,232.7 397.1,232.1 397.2,231.5 397.3,231.1 397.5,230.7 397.6,230.3 397.7,230.1 397.9,230.0 398.0,230.0 398.1,230.1 398.3,230.3 398.4,230.7 398.5,231.1 398.7,231.5 398.8,232.1 398.9,232.7 399.0,233.3 399.2,233.9 399.3,234.6 399.4,235.3 399.6,236.0 399.7,236.6 399.8,237.3 400.0,237.9 400.1,238.5 400.2,239.1 400.4,239.8 400.5,240.4 400.6,241.1 400.7,241.8 400.9,242.5 401.0,243.3 401.1,244.0 401.3,244.8 401.4,245.5 401.5,246.3 401.7,247.1 401.8,247.9 401.9,248.8 402.1,249.6 402.2,250.5 402.3,251.3 402.5,252.2" fill="none" stroke="#ff1a1a" stroke-width="1.05" stroke-dasharray="2.7,1.15" stroke-linejoin="round"/>
<path d="M471.5,250.6 472.6,248.8 473.8,247.0 475.0,245.3 476.1,243.7 477.3,242.2 478.5,240.8 479.7,239.3 480.8,237.8 482.0,236.2 483.2,234.5 484.4,232.8 485.5,231.0 486.7,229.3 487.9,227.5 489.0,225.9 490.2,224.3 491.4,222.7 492.6,221.2 493.7,219.7 494.9,218.1 496.1,216.7 497.3,215.3 498.4,213.9 499.6,212.7 500.8,211.7 501.9,210.8 503.1,209.9 504.3,209.1 505.5,208.3 506.6,207.6 507.8,207.0 509.0,206.4 510.2,205.9 511.3,205.5 512.5,205.1 513.7,204.8 514.8,204.4 516.0,204.1 517.2,203.9 518.4,203.7 519.5,203.5 520.7,203.5 521.9,203.5 523.1,203.6 524.2,203.8 525.4,204.1 526.6,204.4 527.7,204.7 528.9,205.2 530.1,205.6 531.3,206.1 532.4,206.6 533.6,207.4 534.8,208.5 536.0,209.9 537.1,211.4 538.3,213.1 539.5,214.9 540.6,216.8 541.8,219.1 543.0,221.7 544.2,224.4 545.3,227.3 546.5,230.4 547.7,233.8 548.9,237.4 550.0,241.4 551.2,245.8 552.4,250.6" fill="none" stroke="#1010ff" stroke-width="1.05" stroke-dasharray="2.7,1.15" stroke-linejoin="round"/>
<path d="M526.4,250.6 527.0,250.1 527.7,249.6 528.3,249.1 529.0,248.6 529.6,248.1 530.3,247.6 530.9,247.1 531.6,246.7 532.2,246.2 532.9,245.7 533.5,245.3 534.2,244.8 534.8,244.4 535.5,243.9 536.1,243.5 536.8,243.0 537.4,242.6 538.0,242.2 538.7,241.7 539.3,241.3 540.0,240.9 540.6,240.5 541.3,240.1 541.9,239.7 542.6,239.3 543.2,238.9 543.9,238.5 544.5,238.1 545.2,237.6 545.8,237.2 546.5,236.8 547.1,236.4 547.8,236.0 548.4,235.6 549.1,235.2 549.7,234.9 550.3,234.6 551.0,234.4 551.6,234.2 552.3,234.1 552.9,234.0 553.6,234.0 554.2,233.9 554.9,233.9 555.5,233.8 556.2,233.8 556.8,233.8 557.5,233.7 558.1,233.8 558.8,234.0 559.4,234.3 560.1,234.8 560.7,235.4 561.4,236.0 562.0,236.7 562.6,237.4 563.3,238.2 563.9,238.9 564.6,239.7 565.2,240.5 565.9,241.5 566.5,242.5 567.2,243.5 567.8,244.6 568.5,245.7 569.1,246.8 569.8,248.1 570.4,249.3 571.1,250.6" fill="none" stroke="#b04cb0" stroke-width="0.6" stroke-linejoin="round"/>
<path d="M526.4,250.6 526.9,250.2 527.5,249.8 528.0,249.4 528.6,249.0 529.1,248.6 529.7,248.2 530.3,247.8 530.8,247.4 531.4,247.1 531.9,246.7 532.5,246.3 533.0,245.9 533.6,245.6 534.1,245.2 534.7,244.8 535.2,244.5 535.8,244.1 536.3,243.7 536.9,243.4 537.4,243.0 538.0,242.6 538.5,242.3 539.1,241.9 539.6,241.6 540.2,241.2 540.7,240.9 541.3,240.6 541.8,240.2 542.4,239.9 542.9,239.6 543.5,239.2 544.0,238.9 544.6,238.5 545.1,238.1 545.7,237.8 546.2,237.5 546.8,237.2 547.3,237.0 547.9,236.9 548.4,236.9 549.0,236.9 549.5,236.9 550.1,237.0 550.6,237.2 551.2,237.3 551.7,237.5 552.3,237.8 552.8,238.0 553.4,238.3 553.9,238.5 554.5,238.8 555.0,239.1 555.6,239.4 556.1,239.7 556.7,240.1 557.2,240.6 557.8,241.0 558.3,241.6 558.9,242.1 559.4,242.7 560.0,243.4 560.5,244.1 561.1,244.8 561.6,245.6 562.2,246.4 562.7,247.4 563.3,248.4 563.8,249.5 564.4,250.6" fill="none" stroke="#b04cb0" stroke-width="0.6" stroke-linejoin="round"/>
<path d="M427.3,250.6 428.5,249.8 429.7,249.1 430.9,248.5 432.1,247.9 433.3,247.4 434.4,247.0 435.6,246.6 436.8,246.2 438.0,245.9 439.2,245.6 440.4,245.4 441.6,245.2 442.8,245.0 444.0,244.8 445.2,244.6 446.4,244.4 447.5,244.3 448.7,244.2 449.9,244.2 451.1,244.2 452.3,244.3 453.5,244.4 454.7,244.6 455.9,244.8 457.1,245.0 458.3,245.2 459.4,245.4 460.6,245.6 461.8,245.9 463.0,246.2 464.2,246.6 465.4,247.0 466.6,247.4 467.8,247.9 469.0,248.4 470.2,249.0 471.4,249.4 472.5,249.4 473.7,249.4 474.9,249.4 476.1,249.3 477.3,249.2 478.5,249.0 479.7,248.7 480.9,248.4 482.1,248.1 483.3,247.9 484.5,247.7 485.6,247.6 486.8,247.5 488.0,247.3 489.2,247.2 490.4,247.1 491.6,247.1 492.8,247.0 494.0,247.0 495.2,247.0 496.4,247.1 497.5,247.2 498.7,247.3 499.9,247.5 501.1,247.6 502.3,247.8 503.5,248.1 504.7,248.5 505.9,248.9 507.1,249.3 508.3,249.9 509.5,250.6" fill="none" stroke="#1a9a1a" stroke-width="1.05" stroke-dasharray="4.2,1.1,0.9,1.1" stroke-linejoin="round"/>
<path d="M409.3,250.6 410.9,249.6 412.4,248.6 414.0,247.6 415.5,246.7 417.1,245.7 418.6,244.8 420.2,243.9 421.7,243.1 423.3,242.2 424.8,241.4 426.4,240.6 427.9,239.8 429.5,238.9 431.0,238.1 432.5,237.2 434.1,236.3 435.6,235.4 437.2,234.5 438.7,233.7 440.3,232.9 441.8,232.2 443.4,231.4 444.9,230.7 446.5,230.0 448.0,229.3 449.6,228.6 451.1,227.9 452.7,227.2 454.2,226.5 455.8,225.9 457.3,225.3 458.9,224.7 460.4,224.1 462.0,223.5 463.5,223.0 465.1,222.5 466.6,222.0 468.1,221.5 469.7,221.1 471.2,220.7 472.8,220.4 474.3,220.0 475.9,219.7 477.4,219.4 479.0,219.2 480.5,219.0 482.1,218.9 483.6,218.8 485.2,218.7 486.7,218.6 488.3,218.5 489.8,218.5 491.4,218.7 492.9,219.1 494.5,219.6 496.0,220.2 497.6,220.9 499.1,221.8 500.6,222.8 502.2,224.1 503.7,226.0 505.3,228.1 506.8,230.6 508.4,233.2 509.9,236.2 511.5,239.5 513.0,242.9 514.6,246.6 516.1,250.6" fill="none" stroke="#c4c400" stroke-width="1.05" stroke-dasharray="2.7,1.15" stroke-linejoin="round"/>
</g>
<line x1="385.2" y1="149.4" x2="385.2" y2="248.8" stroke="#000" stroke-opacity="0.28" stroke-width="0.85" stroke-linecap="square"/>
<line x1="385.2" y1="248.8" x2="576.2" y2="248.8" stroke="#000" stroke-opacity="0.32" stroke-width="0.85" stroke-linecap="square"/>
<line x1="385.2" y1="149.4" x2="576.2" y2="149.4" stroke="#000" stroke-opacity="0.42" stroke-width="0.85" stroke-linecap="square"/>
<line x1="576.2" y1="149.4" x2="576.2" y2="248.8" stroke="#000" stroke-opacity="0.38" stroke-width="0.85" stroke-linecap="square"/>
<line x1="388.28" x2="388.28" y1="248.8" y2="250.0" stroke="#000" stroke-opacity="0.25" stroke-width="0.5"/>
<line x1="398.55" x2="398.55" y1="248.8" y2="250.0" stroke="#000" stroke-opacity="0.25" stroke-width="0.5"/>
<line x1="408.82" x2="408.82" y1="248.8" y2="250.0" stroke="#000" stroke-opacity="0.25" stroke-width="0.5"/>
<line x1="419.09" x2="419.09" y1="248.8" y2="250.0" stroke="#000" stroke-opacity="0.25" stroke-width="0.5"/>
<line x1="429.36" x2="429.36" y1="248.8" y2="250.0" stroke="#000" stroke-opacity="0.25" stroke-width="0.5"/>
<line x1="439.62" x2="439.62" y1="248.8" y2="250.0" stroke="#000" stroke-opacity="0.25" stroke-width="0.5"/>
<line x1="449.89" x2="449.89" y1="248.8" y2="250.0" stroke="#000" stroke-opacity="0.25" stroke-width="0.5"/>
<line x1="460.16" x2="460.16" y1="248.8" y2="250.0" stroke="#000" stroke-opacity="0.25" stroke-width="0.5"/>
<line x1="470.43" x2="470.43" y1="248.8" y2="250.0" stroke="#000" stroke-opacity="0.25" stroke-width="0.5"/>
<line x1="480.70" x2="480.70" y1="248.8" y2="250.0" stroke="#000" stroke-opacity="0.25" stroke-width="0.5"/>
<line x1="490.97" x2="490.97" y1="248.8" y2="250.0" stroke="#000" stroke-opacity="0.25" stroke-width="0.5"/>
<line x1="501.24" x2="501.24" y1="248.8" y2="250.0" stroke="#000" stroke-opacity="0.25" stroke-width="0.5"/>
<line x1="511.51" x2="511.51" y1="248.8" y2="250.0" stroke="#000" stroke-opacity="0.25" stroke-width="0.5"/>
<line x1="521.78" x2="521.78" y1="248.8" y2="250.0" stroke="#000" stroke-opacity="0.25" stroke-width="0.5"/>
<line x1="532.04" x2="532.04" y1="248.8" y2="250.0" stroke="#000" stroke-opacity="0.25" stroke-width="0.5"/>
<line x1="542.31" x2="542.31" y1="248.8" y2="250.0" stroke="#000" stroke-opacity="0.25" stroke-width="0.5"/>
<line x1="552.58" x2="552.58" y1="248.8" y2="250.0" stroke="#000" stroke-opacity="0.25" stroke-width="0.5"/>
<line x1="562.85" x2="562.85" y1="248.8" y2="250.0" stroke="#000" stroke-opacity="0.25" stroke-width="0.5"/>
<line x1="573.12" x2="573.12" y1="248.8" y2="250.0" stroke="#000" stroke-opacity="0.25" stroke-width="0.5"/>
<line x1="384.0" x2="385.2" y1="167.16" y2="167.16" stroke="#000" stroke-opacity="0.25" stroke-width="0.5"/>
<line x1="384.0" x2="385.2" y1="183.52" y2="183.52" stroke="#000" stroke-opacity="0.25" stroke-width="0.5"/>
<line x1="384.0" x2="385.2" y1="199.88" y2="199.88" stroke="#000" stroke-opacity="0.25" stroke-width="0.5"/>
<line x1="384.0" x2="385.2" y1="216.24" y2="216.24" stroke="#000" stroke-opacity="0.25" stroke-width="0.5"/>
<line x1="384.0" x2="385.2" y1="232.60" y2="232.60" stroke="#000" stroke-opacity="0.25" stroke-width="0.5"/>
<rect x="387.35" y="151.50" width="186.55" height="14.90" rx="0.8" fill="#fff" fill-opacity="0.8" stroke="#c8c8c8" stroke-width="0.55"/>
<line x1="388.95" x2="398.75" y1="155.40" y2="155.40" stroke="#111" stroke-width="1.25"/>
<line x1="388.95" x2="398.75" y1="162.10" y2="162.10" stroke="#ff1a1a" stroke-width="1.15" stroke-dasharray="2.7,1.15"/>
<line x1="452.70" x2="462.50" y1="155.40" y2="155.40" stroke="#1010ff" stroke-width="1.15" stroke-dasharray="2.7,1.15"/>
<line x1="452.70" x2="462.50" y1="162.10" y2="162.10" stroke="#a030a0" stroke-width="1.15" stroke-dasharray="1.0,0.65"/>
<line x1="518.60" x2="528.40" y1="155.40" y2="155.40" stroke="#1a9a1a" stroke-width="1.15" stroke-dasharray="4.2,1.1,0.9,1.1"/>
<line x1="518.60" x2="528.40" y1="162.10" y2="162.10" stroke="#c4c400" stroke-width="1.15" stroke-dasharray="2.7,1.15"/>
</g>
<text x="25.46" y="112.15" font-size="6.30" stroke-width="0.16" textLength="5.83" lengthAdjust="spacingAndGlyphs">-4</text>
<text x="35.73" y="112.15" font-size="6.30" stroke-width="0.16" textLength="5.83" lengthAdjust="spacingAndGlyphs">-3</text>
<text x="46.00" y="112.15" font-size="6.30" stroke-width="0.16" textLength="5.83" lengthAdjust="spacingAndGlyphs">-2</text>
<text x="56.27" y="112.15" font-size="6.30" stroke-width="0.16" textLength="5.83" lengthAdjust="spacingAndGlyphs">-1</text>
<text x="67.59" y="112.15" font-size="6.30" stroke-width="0.16">0</text>
<text x="77.86" y="112.15" font-size="6.30" stroke-width="0.16">1</text>
<text x="88.13" y="112.15" font-size="6.30" stroke-width="0.16">2</text>
<text x="98.40" y="112.15" font-size="6.30" stroke-width="0.16">3</text>
<text x="108.67" y="112.15" font-size="6.30" stroke-width="0.16">4</text>
<text x="118.94" y="112.15" font-size="6.30" stroke-width="0.16">5</text>
<text x="129.21" y="112.15" font-size="6.30" stroke-width="0.16">6</text>
<text x="139.48" y="112.15" font-size="6.30" stroke-width="0.16">7</text>
<text x="149.75" y="112.15" font-size="6.30" stroke-width="0.16">8</text>
<text x="160.01" y="112.15" font-size="6.30" stroke-width="0.16">9</text>
<text x="168.42" y="112.15" font-size="6.30" stroke-width="0.16" textLength="7.44" lengthAdjust="spacingAndGlyphs">10</text>
<text x="178.69" y="112.15" font-size="6.30" stroke-width="0.16" textLength="7.44" lengthAdjust="spacingAndGlyphs">11</text>
<text x="188.96" y="112.15" font-size="6.30" stroke-width="0.16" textLength="7.44" lengthAdjust="spacingAndGlyphs">12</text>
<text x="199.23" y="112.15" font-size="6.30" stroke-width="0.16" textLength="7.44" lengthAdjust="spacingAndGlyphs">13</text>
<text x="209.50" y="112.15" font-size="6.30" stroke-width="0.16" textLength="7.44" lengthAdjust="spacingAndGlyphs">14</text>
<text x="12.73" y="9.05" font-size="6.99" stroke-width="0.21" textLength="11.02" lengthAdjust="spacingAndGlyphs">-11</text>
<text x="12.73" y="39.25" font-size="6.99" stroke-width="0.21" textLength="11.02" lengthAdjust="spacingAndGlyphs">-12</text>
<text x="12.73" y="69.45" font-size="6.99" stroke-width="0.21" textLength="11.02" lengthAdjust="spacingAndGlyphs">-13</text>
<text x="12.73" y="99.65" font-size="6.99" stroke-width="0.21" textLength="11.02" lengthAdjust="spacingAndGlyphs">-14</text>
<text x="104.84" y="5.45" font-size="6.93" stroke-width="0.20" textLength="31.91" lengthAdjust="spacingAndGlyphs">NGC2892</text>
<text x="102.35" y="118.70" font-size="6.93" stroke-width="0.20" textLength="12.82" lengthAdjust="spacingAndGlyphs">log(</text>
<text x="115.35" y="118.70" font-size="6.93" stroke-width="0.20" font-style="italic">E</text>
<text x="119.76" y="120.00" font-size="4.85" stroke-width="0.10" font-style="italic">γ</text>
<text x="122.71" y="118.70" font-size="6.93" stroke-width="0.20" textLength="16.54" lengthAdjust="spacingAndGlyphs">)[eV]</text>
<g transform="translate(9.20,56.10) rotate(-90)"><text x="-41.45" y="0.00" font-size="6.73" stroke-width="0.20" textLength="12.44" lengthAdjust="spacingAndGlyphs">log(</text><text x="-28.40" y="0.00" font-size="6.73" stroke-width="0.20" font-style="italic">E</text><text x="-23.69" y="1.20" font-size="4.71" stroke-width="0.10" font-style="italic">γ</text><text x="-20.40" y="0.00" font-size="6.73" stroke-width="0.20" font-style="italic">F</text><text x="-16.06" y="1.20" font-size="4.71" stroke-width="0.10" font-style="italic">E</text><text x="-12.58" y="2.00" font-size="3.30" stroke-width="0.03" font-style="italic">γ</text><text x="-10.09" y="0.00" font-size="6.73" stroke-width="0.20" textLength="21.21" lengthAdjust="spacingAndGlyphs">)[erg s</text><text x="11.72" y="-2.50" font-size="4.71" stroke-width="0.10" textLength="6.71" lengthAdjust="spacingAndGlyphs">−1</text><text x="21.10" y="0.00" font-size="6.73" stroke-width="0.20" textLength="9.91" lengthAdjust="spacingAndGlyphs">cm</text><text x="31.60" y="-2.50" font-size="4.71" stroke-width="0.10" textLength="6.71" lengthAdjust="spacingAndGlyphs">−2</text><text x="38.91" y="0.00" font-size="6.73" stroke-width="0.20">]</text></g>
<text x="42.55" y="14.55" font-size="4.78" stroke-width="0.10" textLength="10.79" lengthAdjust="spacingAndGlyphs">Total</text>
<text x="42.55" y="21.25" font-size="4.78" stroke-width="0.10" textLength="41.77" lengthAdjust="spacingAndGlyphs">Thermal electrons</text>
<text x="105.70" y="14.55" font-size="4.78" stroke-width="0.10" textLength="43.89" lengthAdjust="spacingAndGlyphs">Proton synchrotron</text>
<text x="105.70" y="21.25" font-size="4.78" stroke-width="0.10" textLength="43.52" lengthAdjust="spacingAndGlyphs">Bethe-Heitler pairs</text>
<text x="171.75" y="14.55" font-size="4.78" stroke-width="0.10" textLength="18.29" lengthAdjust="spacingAndGlyphs">γγ pairs</text>
<text x="171.75" y="21.25" font-size="4.78" stroke-width="0.10" textLength="40.60" lengthAdjust="spacingAndGlyphs">Primary electrons</text>
<text x="259.66" y="112.15" font-size="6.30" stroke-width="0.16" textLength="5.83" lengthAdjust="spacingAndGlyphs">-4</text>
<text x="269.93" y="112.15" font-size="6.30" stroke-width="0.16" textLength="5.83" lengthAdjust="spacingAndGlyphs">-3</text>
<text x="280.20" y="112.15" font-size="6.30" stroke-width="0.16" textLength="5.83" lengthAdjust="spacingAndGlyphs">-2</text>
<text x="290.47" y="112.15" font-size="6.30" stroke-width="0.16" textLength="5.83" lengthAdjust="spacingAndGlyphs">-1</text>
<text x="301.79" y="112.15" font-size="6.30" stroke-width="0.16">0</text>
<text x="312.06" y="112.15" font-size="6.30" stroke-width="0.16">1</text>
<text x="322.33" y="112.15" font-size="6.30" stroke-width="0.16">2</text>
<text x="332.60" y="112.15" font-size="6.30" stroke-width="0.16">3</text>
<text x="342.87" y="112.15" font-size="6.30" stroke-width="0.16">4</text>
<text x="353.14" y="112.15" font-size="6.30" stroke-width="0.16">5</text>
<text x="363.41" y="112.15" font-size="6.30" stroke-width="0.16">6</text>
<text x="373.68" y="112.15" font-size="6.30" stroke-width="0.16">7</text>
<text x="383.95" y="112.15" font-size="6.30" stroke-width="0.16">8</text>
<text x="394.21" y="112.15" font-size="6.30" stroke-width="0.16">9</text>
<text x="402.62" y="112.15" font-size="6.30" stroke-width="0.16" textLength="7.44" lengthAdjust="spacingAndGlyphs">10</text>
<text x="412.89" y="112.15" font-size="6.30" stroke-width="0.16" textLength="7.44" lengthAdjust="spacingAndGlyphs">11</text>
<text x="423.16" y="112.15" font-size="6.30" stroke-width="0.16" textLength="7.44" lengthAdjust="spacingAndGlyphs">12</text>
<text x="433.43" y="112.15" font-size="6.30" stroke-width="0.16" textLength="7.44" lengthAdjust="spacingAndGlyphs">13</text>
<text x="443.70" y="112.15" font-size="6.30" stroke-width="0.16" textLength="7.44" lengthAdjust="spacingAndGlyphs">14</text>
<text x="246.93" y="26.25" font-size="6.99" stroke-width="0.21" textLength="11.02" lengthAdjust="spacingAndGlyphs">-10</text>
<text x="246.93" y="42.61" font-size="6.99" stroke-width="0.21" textLength="11.02" lengthAdjust="spacingAndGlyphs">-11</text>
<text x="246.93" y="58.97" font-size="6.99" stroke-width="0.21" textLength="11.02" lengthAdjust="spacingAndGlyphs">-12</text>
<text x="246.93" y="75.33" font-size="6.99" stroke-width="0.21" textLength="11.02" lengthAdjust="spacingAndGlyphs">-13</text>
<text x="246.93" y="91.69" font-size="6.99" stroke-width="0.21" textLength="11.02" lengthAdjust="spacingAndGlyphs">-14</text>
<text x="246.93" y="108.05" font-size="6.99" stroke-width="0.21" textLength="11.02" lengthAdjust="spacingAndGlyphs">-15</text>
<text x="335.56" y="5.45" font-size="6.93" stroke-width="0.20" textLength="38.88" lengthAdjust="spacingAndGlyphs">LEDA57137</text>
<text x="336.55" y="118.70" font-size="6.93" stroke-width="0.20" textLength="12.82" lengthAdjust="spacingAndGlyphs">log(</text>
<text x="349.55" y="118.70" font-size="6.93" stroke-width="0.20" font-style="italic">E</text>
<text x="353.96" y="120.00" font-size="4.85" stroke-width="0.10" font-style="italic">γ</text>
<text x="356.91" y="118.70" font-size="6.93" stroke-width="0.20" textLength="16.54" lengthAdjust="spacingAndGlyphs">)[eV]</text>
<g transform="translate(243.40,56.10) rotate(-90)"><text x="-41.45" y="0.00" font-size="6.73" stroke-width="0.20" textLength="12.44" lengthAdjust="spacingAndGlyphs">log(</text><text x="-28.40" y="0.00" font-size="6.73" stroke-width="0.20" font-style="italic">E</text><text x="-23.69" y="1.20" font-size="4.71" stroke-width="0.10" font-style="italic">γ</text><text x="-20.40" y="0.00" font-size="6.73" stroke-width="0.20" font-style="italic">F</text><text x="-16.06" y="1.20" font-size="4.71" stroke-width="0.10" font-style="italic">E</text><text x="-12.58" y="2.00" font-size="3.30" stroke-width="0.03" font-style="italic">γ</text><text x="-10.09" y="0.00" font-size="6.73" stroke-width="0.20" textLength="21.21" lengthAdjust="spacingAndGlyphs">)[erg s</text><text x="11.72" y="-2.50" font-size="4.71" stroke-width="0.10" textLength="6.71" lengthAdjust="spacingAndGlyphs">−1</text><text x="21.10" y="0.00" font-size="6.73" stroke-width="0.20" textLength="9.91" lengthAdjust="spacingAndGlyphs">cm</text><text x="31.60" y="-2.50" font-size="4.71" stroke-width="0.10" textLength="6.71" lengthAdjust="spacingAndGlyphs">−2</text><text x="38.91" y="0.00" font-size="6.73" stroke-width="0.20">]</text></g>
<text x="276.75" y="14.55" font-size="4.78" stroke-width="0.10" textLength="10.79" lengthAdjust="spacingAndGlyphs">Total</text>
<text x="276.75" y="21.25" font-size="4.78" stroke-width="0.10" textLength="41.77" lengthAdjust="spacingAndGlyphs">Thermal electrons</text>
<text x="339.90" y="14.55" font-size="4.78" stroke-width="0.10" textLength="43.89" lengthAdjust="spacingAndGlyphs">Proton synchrotron</text>
<text x="339.90" y="21.25" font-size="4.78" stroke-width="0.10" textLength="43.52" lengthAdjust="spacingAndGlyphs">Bethe-Heitler pairs</text>
<text x="405.95" y="14.55" font-size="4.78" stroke-width="0.10" textLength="18.29" lengthAdjust="spacingAndGlyphs">γγ pairs</text>
<text x="405.95" y="21.25" font-size="4.78" stroke-width="0.10" textLength="40.60" lengthAdjust="spacingAndGlyphs">Primary electrons</text>
<text x="494.16" y="112.15" font-size="6.30" stroke-width="0.16" textLength="5.83" lengthAdjust="spacingAndGlyphs">-4</text>
<text x="504.43" y="112.15" font-size="6.30" stroke-width="0.16" textLength="5.83" lengthAdjust="spacingAndGlyphs">-3</text>
<text x="514.70" y="112.15" font-size="6.30" stroke-width="0.16" textLength="5.83" lengthAdjust="spacingAndGlyphs">-2</text>
<text x="524.97" y="112.15" font-size="6.30" stroke-width="0.16" textLength="5.83" lengthAdjust="spacingAndGlyphs">-1</text>
<text x="536.29" y="112.15" font-size="6.30" stroke-width="0.16">0</text>
<text x="546.56" y="112.15" font-size="6.30" stroke-width="0.16">1</text>
<text x="556.83" y="112.15" font-size="6.30" stroke-width="0.16">2</text>
<text x="567.10" y="112.15" font-size="6.30" stroke-width="0.16">3</text>
<text x="577.37" y="112.15" font-size="6.30" stroke-width="0.16">4</text>
<text x="587.64" y="112.15" font-size="6.30" stroke-width="0.16">5</text>
<text x="597.91" y="112.15" font-size="6.30" stroke-width="0.16">6</text>
<text x="608.18" y="112.15" font-size="6.30" stroke-width="0.16">7</text>
<text x="618.45" y="112.15" font-size="6.30" stroke-width="0.16">8</text>
<text x="628.71" y="112.15" font-size="6.30" stroke-width="0.16">9</text>
<text x="637.12" y="112.15" font-size="6.30" stroke-width="0.16" textLength="7.44" lengthAdjust="spacingAndGlyphs">10</text>
<text x="647.39" y="112.15" font-size="6.30" stroke-width="0.16" textLength="7.44" lengthAdjust="spacingAndGlyphs">11</text>
<text x="657.66" y="112.15" font-size="6.30" stroke-width="0.16" textLength="7.44" lengthAdjust="spacingAndGlyphs">12</text>
<text x="667.93" y="112.15" font-size="6.30" stroke-width="0.16" textLength="7.44" lengthAdjust="spacingAndGlyphs">13</text>
<text x="678.20" y="112.15" font-size="6.30" stroke-width="0.16" textLength="7.44" lengthAdjust="spacingAndGlyphs">14</text>
<text x="481.43" y="26.25" font-size="6.99" stroke-width="0.21" textLength="11.02" lengthAdjust="spacingAndGlyphs">-10</text>
<text x="481.43" y="42.61" font-size="6.99" stroke-width="0.21" textLength="11.02" lengthAdjust="spacingAndGlyphs">-11</text>
<text x="481.43" y="58.97" font-size="6.99" stroke-width="0.21" textLength="11.02" lengthAdjust="spacingAndGlyphs">-12</text>
<text x="481.43" y="75.33" font-size="6.99" stroke-width="0.21" textLength="11.02" lengthAdjust="spacingAndGlyphs">-13</text>
<text x="481.43" y="91.69" font-size="6.99" stroke-width="0.21" textLength="11.02" lengthAdjust="spacingAndGlyphs">-14</text>
<text x="481.43" y="108.05" font-size="6.99" stroke-width="0.21" textLength="11.02" lengthAdjust="spacingAndGlyphs">-15</text>
<text x="570.06" y="5.45" font-size="6.93" stroke-width="0.20" textLength="38.88" lengthAdjust="spacingAndGlyphs">LEDA55267</text>
<text x="571.05" y="118.70" font-size="6.93" stroke-width="0.20" textLength="12.82" lengthAdjust="spacingAndGlyphs">log(</text>
<text x="584.05" y="118.70" font-size="6.93" stroke-width="0.20" font-style="italic">E</text>
<text x="588.46" y="120.00" font-size="4.85" stroke-width="0.10" font-style="italic">γ</text>
<text x="591.41" y="118.70" font-size="6.93" stroke-width="0.20" textLength="16.54" lengthAdjust="spacingAndGlyphs">)[eV]</text>
<g transform="translate(477.90,56.10) rotate(-90)"><text x="-41.45" y="0.00" font-size="6.73" stroke-width="0.20" textLength="12.44" lengthAdjust="spacingAndGlyphs">log(</text><text x="-28.40" y="0.00" font-size="6.73" stroke-width="0.20" font-style="italic">E</text><text x="-23.69" y="1.20" font-size="4.71" stroke-width="0.10" font-style="italic">γ</text><text x="-20.40" y="0.00" font-size="6.73" stroke-width="0.20" font-style="italic">F</text><text x="-16.06" y="1.20" font-size="4.71" stroke-width="0.10" font-style="italic">E</text><text x="-12.58" y="2.00" font-size="3.30" stroke-width="0.03" font-style="italic">γ</text><text x="-10.09" y="0.00" font-size="6.73" stroke-width="0.20" textLength="21.21" lengthAdjust="spacingAndGlyphs">)[erg s</text><text x="11.72" y="-2.50" font-size="4.71" stroke-width="0.10" textLength="6.71" lengthAdjust="spacingAndGlyphs">−1</text><text x="21.10" y="0.00" font-size="6.73" stroke-width="0.20" textLength="9.91" lengthAdjust="spacingAndGlyphs">cm</text><text x="31.60" y="-2.50" font-size="4.71" stroke-width="0.10" textLength="6.71" lengthAdjust="spacingAndGlyphs">−2</text><text x="38.91" y="0.00" font-size="6.73" stroke-width="0.20">]</text></g>
<text x="511.25" y="14.55" font-size="4.78" stroke-width="0.10" textLength="10.79" lengthAdjust="spacingAndGlyphs">Total</text>
<text x="511.25" y="21.25" font-size="4.78" stroke-width="0.10" textLength="41.77" lengthAdjust="spacingAndGlyphs">Thermal electrons</text>
<text x="574.40" y="14.55" font-size="4.78" stroke-width="0.10" textLength="43.89" lengthAdjust="spacingAndGlyphs">Proton synchrotron</text>
<text x="574.40" y="21.25" font-size="4.78" stroke-width="0.10" textLength="43.52" lengthAdjust="spacingAndGlyphs">Bethe-Heitler pairs</text>
<text x="640.45" y="14.55" font-size="4.78" stroke-width="0.10" textLength="18.29" lengthAdjust="spacingAndGlyphs">γγ pairs</text>
<text x="640.45" y="21.25" font-size="4.78" stroke-width="0.10" textLength="40.60" lengthAdjust="spacingAndGlyphs">Primary electrons</text>
<text x="144.41" y="255.25" font-size="6.30" stroke-width="0.16" textLength="5.83" lengthAdjust="spacingAndGlyphs">-4</text>
<text x="154.68" y="255.25" font-size="6.30" stroke-width="0.16" textLength="5.83" lengthAdjust="spacingAndGlyphs">-3</text>
<text x="164.95" y="255.25" font-size="6.30" stroke-width="0.16" textLength="5.83" lengthAdjust="spacingAndGlyphs">-2</text>
<text x="175.22" y="255.25" font-size="6.30" stroke-width="0.16" textLength="5.83" lengthAdjust="spacingAndGlyphs">-1</text>
<text x="186.54" y="255.25" font-size="6.30" stroke-width="0.16">0</text>
<text x="196.81" y="255.25" font-size="6.30" stroke-width="0.16">1</text>
<text x="207.08" y="255.25" font-size="6.30" stroke-width="0.16">2</text>
<text x="217.35" y="255.25" font-size="6.30" stroke-width="0.16">3</text>
<text x="227.62" y="255.25" font-size="6.30" stroke-width="0.16">4</text>
<text x="237.89" y="255.25" font-size="6.30" stroke-width="0.16">5</text>
<text x="248.16" y="255.25" font-size="6.30" stroke-width="0.16">6</text>
<text x="258.43" y="255.25" font-size="6.30" stroke-width="0.16">7</text>
<text x="268.70" y="255.25" font-size="6.30" stroke-width="0.16">8</text>
<text x="278.96" y="255.25" font-size="6.30" stroke-width="0.16">9</text>
<text x="287.37" y="255.25" font-size="6.30" stroke-width="0.16" textLength="7.44" lengthAdjust="spacingAndGlyphs">10</text>
<text x="297.64" y="255.25" font-size="6.30" stroke-width="0.16" textLength="7.44" lengthAdjust="spacingAndGlyphs">11</text>
<text x="307.91" y="255.25" font-size="6.30" stroke-width="0.16" textLength="7.44" lengthAdjust="spacingAndGlyphs">12</text>
<text x="318.18" y="255.25" font-size="6.30" stroke-width="0.16" textLength="7.44" lengthAdjust="spacingAndGlyphs">13</text>
<text x="328.45" y="255.25" font-size="6.30" stroke-width="0.16" textLength="7.44" lengthAdjust="spacingAndGlyphs">14</text>
<text x="131.68" y="169.35" font-size="6.99" stroke-width="0.21" textLength="11.02" lengthAdjust="spacingAndGlyphs">-10</text>
<text x="131.68" y="185.71" font-size="6.99" stroke-width="0.21" textLength="11.02" lengthAdjust="spacingAndGlyphs">-11</text>
<text x="131.68" y="202.07" font-size="6.99" stroke-width="0.21" textLength="11.02" lengthAdjust="spacingAndGlyphs">-12</text>
<text x="131.68" y="218.43" font-size="6.99" stroke-width="0.21" textLength="11.02" lengthAdjust="spacingAndGlyphs">-13</text>
<text x="131.68" y="234.79" font-size="6.99" stroke-width="0.21" textLength="11.02" lengthAdjust="spacingAndGlyphs">-14</text>
<text x="131.68" y="251.15" font-size="6.99" stroke-width="0.21" textLength="11.02" lengthAdjust="spacingAndGlyphs">-15</text>
<text x="220.31" y="148.25" font-size="6.93" stroke-width="0.20" textLength="38.88" lengthAdjust="spacingAndGlyphs">LEDA58287</text>
<text x="221.30" y="261.80" font-size="6.93" stroke-width="0.20" textLength="12.82" lengthAdjust="spacingAndGlyphs">log(</text>
<text x="234.30" y="261.80" font-size="6.93" stroke-width="0.20" font-style="italic">E</text>
<text x="238.71" y="263.10" font-size="4.85" stroke-width="0.10" font-style="italic">γ</text>
<text x="241.66" y="261.80" font-size="6.93" stroke-width="0.20" textLength="16.54" lengthAdjust="spacingAndGlyphs">)[eV]</text>
<g transform="translate(128.15,199.05) rotate(-90)"><text x="-41.45" y="0.00" font-size="6.73" stroke-width="0.20" textLength="12.44" lengthAdjust="spacingAndGlyphs">log(</text><text x="-28.40" y="0.00" font-size="6.73" stroke-width="0.20" font-style="italic">E</text><text x="-23.69" y="1.20" font-size="4.71" stroke-width="0.10" font-style="italic">γ</text><text x="-20.40" y="0.00" font-size="6.73" stroke-width="0.20" font-style="italic">F</text><text x="-16.06" y="1.20" font-size="4.71" stroke-width="0.10" font-style="italic">E</text><text x="-12.58" y="2.00" font-size="3.30" stroke-width="0.03" font-style="italic">γ</text><text x="-10.09" y="0.00" font-size="6.73" stroke-width="0.20" textLength="21.21" lengthAdjust="spacingAndGlyphs">)[erg s</text><text x="11.72" y="-2.50" font-size="4.71" stroke-width="0.10" textLength="6.71" lengthAdjust="spacingAndGlyphs">−1</text><text x="21.10" y="0.00" font-size="6.73" stroke-width="0.20" textLength="9.91" lengthAdjust="spacingAndGlyphs">cm</text><text x="31.60" y="-2.50" font-size="4.71" stroke-width="0.10" textLength="6.71" lengthAdjust="spacingAndGlyphs">−2</text><text x="38.91" y="0.00" font-size="6.73" stroke-width="0.20">]</text></g>
<text x="161.50" y="157.35" font-size="4.78" stroke-width="0.10" textLength="10.79" lengthAdjust="spacingAndGlyphs">Total</text>
<text x="161.50" y="164.05" font-size="4.78" stroke-width="0.10" textLength="41.77" lengthAdjust="spacingAndGlyphs">Thermal electrons</text>
<text x="224.65" y="157.35" font-size="4.78" stroke-width="0.10" textLength="43.89" lengthAdjust="spacingAndGlyphs">Proton synchrotron</text>
<text x="224.65" y="164.05" font-size="4.78" stroke-width="0.10" textLength="43.17" lengthAdjust="spacingAndGlyphs">Bethe-Heitler Pairs</text>
<text x="290.70" y="157.35" font-size="4.78" stroke-width="0.10" textLength="18.29" lengthAdjust="spacingAndGlyphs">γγ pairs</text>
<text x="290.70" y="164.05" font-size="4.78" stroke-width="0.10" textLength="40.60" lengthAdjust="spacingAndGlyphs">Primary electrons</text>
<text x="385.36" y="255.35" font-size="6.30" stroke-width="0.16" textLength="5.83" lengthAdjust="spacingAndGlyphs">-4</text>
<text x="395.63" y="255.35" font-size="6.30" stroke-width="0.16" textLength="5.83" lengthAdjust="spacingAndGlyphs">-3</text>
<text x="405.90" y="255.35" font-size="6.30" stroke-width="0.16" textLength="5.83" lengthAdjust="spacingAndGlyphs">-2</text>
<text x="416.17" y="255.35" font-size="6.30" stroke-width="0.16" textLength="5.83" lengthAdjust="spacingAndGlyphs">-1</text>
<text x="427.49" y="255.35" font-size="6.30" stroke-width="0.16">0</text>
<text x="437.76" y="255.35" font-size="6.30" stroke-width="0.16">1</text>
<text x="448.03" y="255.35" font-size="6.30" stroke-width="0.16">2</text>
<text x="458.30" y="255.35" font-size="6.30" stroke-width="0.16">3</text>
<text x="468.57" y="255.35" font-size="6.30" stroke-width="0.16">4</text>
<text x="478.84" y="255.35" font-size="6.30" stroke-width="0.16">5</text>
<text x="489.11" y="255.35" font-size="6.30" stroke-width="0.16">6</text>
<text x="499.38" y="255.35" font-size="6.30" stroke-width="0.16">7</text>
<text x="509.65" y="255.35" font-size="6.30" stroke-width="0.16">8</text>
<text x="519.91" y="255.35" font-size="6.30" stroke-width="0.16">9</text>
<text x="528.32" y="255.35" font-size="6.30" stroke-width="0.16" textLength="7.44" lengthAdjust="spacingAndGlyphs">10</text>
<text x="538.59" y="255.35" font-size="6.30" stroke-width="0.16" textLength="7.44" lengthAdjust="spacingAndGlyphs">11</text>
<text x="548.86" y="255.35" font-size="6.30" stroke-width="0.16" textLength="7.44" lengthAdjust="spacingAndGlyphs">12</text>
<text x="559.13" y="255.35" font-size="6.30" stroke-width="0.16" textLength="7.44" lengthAdjust="spacingAndGlyphs">13</text>
<text x="569.40" y="255.35" font-size="6.30" stroke-width="0.16" textLength="7.44" lengthAdjust="spacingAndGlyphs">14</text>
<text x="372.63" y="169.61" font-size="6.99" stroke-width="0.21" textLength="11.02" lengthAdjust="spacingAndGlyphs">-10</text>
<text x="372.63" y="185.97" font-size="6.99" stroke-width="0.21" textLength="11.02" lengthAdjust="spacingAndGlyphs">-11</text>
<text x="372.63" y="202.33" font-size="6.99" stroke-width="0.21" textLength="11.02" lengthAdjust="spacingAndGlyphs">-12</text>
<text x="372.63" y="218.69" font-size="6.99" stroke-width="0.21" textLength="11.02" lengthAdjust="spacingAndGlyphs">-13</text>
<text x="372.63" y="235.05" font-size="6.99" stroke-width="0.21" textLength="11.02" lengthAdjust="spacingAndGlyphs">-14</text>
<text x="470.98" y="148.25" font-size="6.93" stroke-width="0.20" textLength="19.43" lengthAdjust="spacingAndGlyphs">IC310</text>
<text x="462.25" y="261.90" font-size="6.93" stroke-width="0.20" textLength="12.82" lengthAdjust="spacingAndGlyphs">log(</text>
<text x="475.25" y="261.90" font-size="6.93" stroke-width="0.20" font-style="italic">E</text>
<text x="479.66" y="263.20" font-size="4.85" stroke-width="0.10" font-style="italic">γ</text>
<text x="482.61" y="261.90" font-size="6.93" stroke-width="0.20" textLength="16.54" lengthAdjust="spacingAndGlyphs">)[eV]</text>
<g transform="translate(369.10,199.10) rotate(-90)"><text x="-41.45" y="0.00" font-size="6.73" stroke-width="0.20" textLength="12.44" lengthAdjust="spacingAndGlyphs">log(</text><text x="-28.40" y="0.00" font-size="6.73" stroke-width="0.20" font-style="italic">E</text><text x="-23.69" y="1.20" font-size="4.71" stroke-width="0.10" font-style="italic">γ</text><text x="-20.40" y="0.00" font-size="6.73" stroke-width="0.20" font-style="italic">F</text><text x="-16.06" y="1.20" font-size="4.71" stroke-width="0.10" font-style="italic">E</text><text x="-12.58" y="2.00" font-size="3.30" stroke-width="0.03" font-style="italic">γ</text><text x="-10.09" y="0.00" font-size="6.73" stroke-width="0.20" textLength="21.21" lengthAdjust="spacingAndGlyphs">)[erg s</text><text x="11.72" y="-2.50" font-size="4.71" stroke-width="0.10" textLength="6.71" lengthAdjust="spacingAndGlyphs">−1</text><text x="21.10" y="0.00" font-size="6.73" stroke-width="0.20" textLength="9.91" lengthAdjust="spacingAndGlyphs">cm</text><text x="31.60" y="-2.50" font-size="4.71" stroke-width="0.10" textLength="6.71" lengthAdjust="spacingAndGlyphs">−2</text><text x="38.91" y="0.00" font-size="6.73" stroke-width="0.20">]</text></g>
<text x="402.45" y="157.35" font-size="4.78" stroke-width="0.10" textLength="10.79" lengthAdjust="spacingAndGlyphs">Total</text>
<text x="402.45" y="164.05" font-size="4.78" stroke-width="0.10" textLength="41.77" lengthAdjust="spacingAndGlyphs">Thermal electrons</text>
<text x="465.60" y="157.35" font-size="4.78" stroke-width="0.10" textLength="43.89" lengthAdjust="spacingAndGlyphs">Proton synchrotron</text>
<text x="465.60" y="164.05" font-size="4.78" stroke-width="0.10" textLength="43.52" lengthAdjust="spacingAndGlyphs">Bethe-Heitler pairs</text>
<text x="531.65" y="157.35" font-size="4.78" stroke-width="0.10" textLength="18.29" lengthAdjust="spacingAndGlyphs">γγ pairs</text>
<text x="531.65" y="164.05" font-size="4.78" stroke-width="0.10" textLength="40.60" lengthAdjust="spacingAndGlyphs">Primary electrons</text>
</svg>
</body></html>
